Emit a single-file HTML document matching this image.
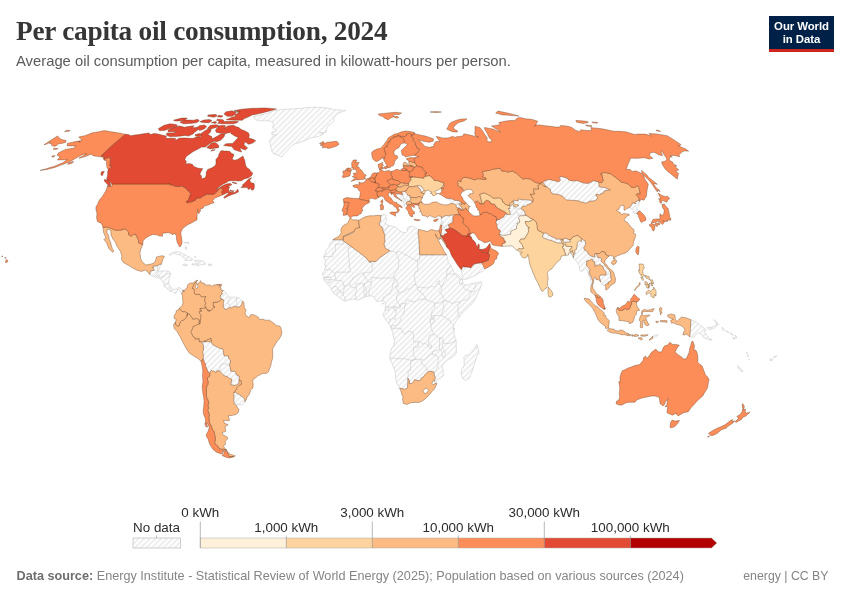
<!DOCTYPE html>
<html lang="en"><head><meta charset="utf-8"><title>Per capita oil consumption, 2024</title>
<style>
html,body{margin:0;padding:0;background:#fff}
body{width:850px;height:600px;position:relative;overflow:hidden;font-family:"Liberation Sans",sans-serif;color:#5b5b5b}
.title{position:absolute;left:16px;top:15.9px;margin:0;font-family:"Liberation Serif",serif;font-weight:bold;font-size:27.3px;line-height:30px;color:#363636;letter-spacing:-0.25px;white-space:nowrap}
.subtitle{position:absolute;left:16px;top:52.4px;margin:0;font-size:14.8px;line-height:18px;color:#5b5b5b;white-space:nowrap}
.logo{position:absolute;left:769px;top:16px;width:65px;height:36px;background:#002147;border-bottom:3px solid #ce261e;box-sizing:border-box;color:#fff;font-weight:bold;font-size:11.4px;line-height:12.3px;text-align:center;padding-top:4.4px;letter-spacing:-0.08px}
.footer{position:absolute;left:16.5px;top:568.3px;font-size:12.67px;line-height:16px;color:#858585;white-space:nowrap}
.footer b{color:#6e6e6e}
.cc{position:absolute;right:21.5px;top:568.3px;font-size:12.3px;line-height:16px;color:#858585;white-space:nowrap}
svg{position:absolute;left:0;top:0}
.nd path{fill:url(#hatch);stroke:#c6c6c6;stroke-width:0.55;stroke-linejoin:round}
.nd path.ndl{fill:none}
g[class^=c] path{stroke:#5a3418;stroke-opacity:.6;stroke-width:0.6;stroke-linejoin:round}
.c0 path{fill:#fef0d9}
.c1 path{fill:#fdd49e}
.c2 path{fill:#fdbb84}
.c3 path{fill:#fc8d59}
.c4 path{fill:#e34a33}
.c5 path{fill:#b30000}
.lg text{font-family:"Liberation Sans",sans-serif;font-size:13.4px;fill:#2b2b2b;text-anchor:middle}
</style></head><body>
<h1 class="title">Per capita oil consumption, 2024</h1>
<p class="subtitle">Average oil consumption per capita, measured in kilowatt-hours per person.</p>
<div class="logo">Our World<br>in Data</div>
<svg width="850" height="600" viewBox="0 0 850 600">
<defs><pattern id="hatch" patternUnits="userSpaceOnUse" width="4" height="4" patternTransform="rotate(-45 2 2)"><rect width="4" height="4" fill="#fff"/><path d="M-1,2 l6,0" stroke="#e2e2e2" stroke-width="1.15"/></pattern></defs>
<g id="map">
<g class="nd">
<path d="M233.8,399.8L233.8,397.2L233.9,392.4L235.7,392.4L237.7,394.0L238.6,394.1L241.1,395.9L243.1,397.4L245.0,399.0L244.8,401.8L244.1,403.2L242.0,405.0L239.2,404.8L235.4,403.5L233.9,402.4ZM239.0,380.3L240.7,380.4L240.8,380.5ZM224.0,355.8L228.2,355.8L228.6,358.4L230.4,360.0L230.4,362.9L229.5,365.0L229.6,365.9L230.5,367.9L230.6,371.1L233.9,371.3L235.7,371.9L236.5,375.0L239.3,376.2L239.0,380.3L239.1,382.7L238.3,384.0L236.7,384.9L235.6,385.3L234.2,385.3L230.5,384.7L232.0,379.5L229.3,378.2L227.6,376.9L224.0,375.6L219.9,371.5L219.4,370.8L216.9,370.8L216.0,372.8L214.0,371.1L212.8,371.1L211.4,370.3L209.7,373.0L207.9,371.6L207.5,370.3L206.9,369.0L206.0,366.9L205.3,365.8L205.8,364.0L204.4,362.4L204.0,360.8L203.0,358.9L203.4,356.8L203.8,355.5L202.7,353.9L203.1,353.1L202.5,351.8L203.6,350.2L203.3,346.8L203.7,345.8L201.4,341.7L203.4,341.8L203.6,341.7L207.5,341.7L211.4,341.8L212.2,344.2L214.6,345.8L217.4,347.1L219.8,348.4L222.9,348.9L223.6,352.6ZM383.3,304.1L382.4,304.1L382.4,303.0L383.3,303.0ZM234.7,297.0L237.1,297.4L239.4,298.3L240.9,299.9L242.7,301.2L242.4,301.9L241.6,304.4L240.4,306.2L239.4,307.0L235.5,306.7L234.3,306.1L232.2,307.5L231.0,307.8L229.2,307.7L226.4,309.4L224.7,309.2L223.4,306.7L223.2,303.3L223.9,301.2L222.8,299.1L221.4,299.1L219.9,297.1L220.5,296.5L220.5,295.1L222.5,294.1L221.6,292.8L223.3,290.4L223.8,290.9L226.7,293.6L227.4,294.9L228.9,296.5L229.9,297.2L232.4,297.2ZM170.2,286.4L171.0,287.5L171.9,288.5L172.8,289.1L174.6,289.6L177.0,288.3L178.2,287.5L180.5,288.0L183.1,289.9L183.1,292.0L181.6,293.8L181.0,293.0L180.4,290.9L178.1,289.1L176.9,290.9L175.8,293.6L174.5,293.0L172.2,291.2L169.9,291.4L168.8,290.4L166.6,287.8L163.9,286.4L163.9,283.8L162.4,281.2L160.3,278.8L159.7,278.0L155.8,277.2L152.5,276.1L149.9,274.6L149.9,274.4L150.1,272.5L151.3,270.5L154.3,270.4L152.4,267.3L153.5,267.3L153.7,265.8L157.9,265.8L157.9,265.5L160.1,264.0L160.5,264.3L160.0,266.7L159.4,269.3L157.9,270.9L159.4,271.4L161.1,271.1L164.5,270.9L168.0,271.1L170.1,272.5L170.7,273.5L169.7,277.2L169.0,279.8L168.8,282.5L168.9,284.1ZM186.0,264.0L187.7,265.1L185.8,265.9L183.1,265.3L182.7,264.5ZM211.8,265.3L208.3,265.3L208.4,264.2L211.9,264.3ZM201.3,260.6L202.6,261.1L204.1,261.9L205.7,263.8L204.3,264.5L202.0,264.3L199.7,264.8L198.4,266.3L197.3,265.1L193.9,264.9L191.9,264.5L192.0,263.8L195.6,264.0L196.6,263.8L195.8,261.9L194.6,260.6L197.9,260.3ZM194.4,256.9L196.0,256.6L195.6,257.7ZM182.7,253.7L185.9,255.3L189.1,256.9L191.2,258.2L192.9,259.5L191.0,260.3L187.9,260.4L184.8,260.5L186.1,258.7L183.3,257.4L181.3,255.6L179.1,254.8L176.2,254.3L174.1,253.2L172.3,254.3L170.4,255.1L169.0,255.1L171.4,252.7L173.8,252.2L175.2,251.8L178.3,251.9L180.5,252.4ZM186.4,249.5L185.5,249.5L185.4,246.9L186.6,246.6ZM188.5,244.2L187.7,243.7L187.8,241.9L188.8,242.7ZM186.7,242.9L184.2,242.9L184.3,242.4L186.8,242.4ZM343.2,236.3L346.9,234.6L350.6,232.9L354.4,231.2L354.4,231.3L351.4,233.7L348.0,234.8L345.6,235.9L343.1,237.1ZM378.5,196.4L378.8,196.4L378.4,197.4ZM387.5,189.0L387.6,189.2L387.1,189.2ZM378.9,184.1L379.3,184.2L378.9,185.0ZM374.1,179.4L374.1,179.3L374.7,179.4L374.7,179.6ZM376.6,175.9L376.5,176.0L376.6,175.8ZM376.9,174.9L376.8,174.9L376.9,174.6ZM269.6,140.2L272.3,136.8L276.5,135.0L274.1,134.8L271.7,134.5L271.9,132.3L274.4,131.6L276.8,130.8L274.7,129.4L272.6,128.0L273.6,124.9L272.3,121.8L270.3,121.3L268.4,120.8L265.8,120.8L263.2,120.8L260.6,120.8L258.5,120.5L256.5,120.2L254.6,118.8L253.7,116.4L256.8,115.7L259.9,115.0L263.0,114.4L265.8,113.7L268.5,113.0L273.2,111.0L276.0,110.4L278.8,109.9L281.6,109.4L284.5,109.3L287.4,109.1L290.3,109.0L293.1,108.9L295.6,108.7L298.1,108.5L300.5,108.3L303.1,108.1L305.6,107.8L308.2,107.6L310.7,107.4L313.4,107.3L316.2,107.3L318.9,107.2L321.5,107.5L324.2,107.8L326.8,108.1L329.4,108.4L332.0,109.1L334.6,109.7L337.3,109.9L340.1,110.1L342.9,110.3L345.7,110.5L342.6,111.6L339.5,112.7L336.1,114.9L333.9,117.8L334.0,120.8L331.0,123.8L327.2,126.5L326.7,129.1L326.0,132.3L322.6,132.5L319.3,132.6L321.6,133.2L324.0,133.9L321.2,135.2L318.4,136.6L314.8,137.1L311.3,137.7L308.4,138.9L305.5,140.2L302.5,141.4L299.5,142.7L295.8,143.4L291.4,145.9L288.5,149.4L284.7,153.0L282.8,155.9L280.9,156.8L279.2,155.9L277.6,154.9L275.5,154.3L273.4,153.7L271.8,150.6L270.7,146.6L269.8,142.4ZM472.8,369.5L470.6,374.8L469.1,378.5L464.9,380.3L462.4,378.2L461.1,373.4L461.8,369.5L464.2,365.5L464.1,360.3L463.8,357.6L465.0,355.5L469.2,354.5L471.4,352.4L473.4,349.7L475.4,347.1L476.7,344.4L478.5,349.7L479.0,353.7L477.0,355.0L476.1,358.9L474.3,364.2ZM454.4,329.7L453.9,329.7L453.7,328.1L454.4,328.4ZM399.3,230.5L402.8,232.4L405.5,232.9L407.2,231.6L407.1,229.7L408.1,227.1L411.3,226.1L414.0,226.8L415.9,228.4L418.6,229.5L418.4,232.4L417.8,233.4L418.6,235.8L418.9,240.6L419.2,245.3L419.4,250.0L419.6,254.8L424.1,254.8L428.6,254.8L433.0,254.8L437.5,254.8L442.0,254.8L446.5,254.8L447.0,256.1L447.6,258.7L448.3,262.7L451.0,265.3L452.5,268.5L453.5,271.7L454.1,272.7L456.0,273.5L458.4,275.1L461.3,278.5L462.7,279.8L462.5,282.2L464.6,285.1L468.0,284.9L471.5,283.5L474.9,283.0L478.4,282.5L481.3,281.6L481.3,285.4L480.4,288.0L478.7,291.2L477.2,294.9L475.6,298.3L473.8,301.5L470.9,304.9L468.1,307.5L465.1,310.2L461.6,313.9L459.5,317.3L458.1,318.1L455.9,321.2L455.0,323.5L453.8,325.2L453.0,328.6L453.9,330.7L454.3,335.2L454.9,337.8L456.2,340.5L456.1,343.1L456.2,347.1L456.4,352.4L454.7,355.5L451.1,357.9L447.3,360.0L445.1,362.4L442.2,365.0L442.6,367.6L443.3,371.3L443.2,375.8L440.8,377.9L437.4,379.2L436.3,381.2L436.8,383.6L435.0,383.5L434.7,381.1L435.2,377.4L434.2,374.8L433.9,371.9L429.6,371.3L427.0,372.4L425.1,374.5L423.4,376.9L421.3,377.9L420.3,380.6L417.6,380.6L414.7,379.5L413.7,381.6L411.6,383.5L409.3,383.5L409.6,381.1L407.9,378.2L407.8,382.9L407.5,387.7L405.7,389.0L403.4,389.0L401.7,388.5L399.6,388.2L396.7,382.9L396.1,380.2L395.5,377.4L395.4,372.1L393.5,366.9L391.3,362.1L389.7,358.4L389.7,356.8L390.5,352.9L391.5,348.4L393.8,345.5L394.6,341.0L393.2,336.0L392.8,332.6L391.2,328.6L390.2,325.5L388.2,323.1L385.9,320.2L384.3,317.5L382.9,314.6L384.5,311.7L385.0,309.9L385.4,306.7L385.4,304.9L385.2,302.3L383.3,300.9L381.9,300.7L378.9,301.2L376.6,301.5L374.7,298.3L373.1,296.2L370.5,295.9L368.4,296.1L365.4,296.7L362.1,298.3L357.9,300.3L355.6,299.4L353.3,299.1L348.6,299.9L345.1,301.3L341.2,299.1L337.5,296.2L335.9,294.6L333.6,293.3L332.0,290.4L330.8,287.8L329.4,286.4L327.8,284.3L326.7,283.3L325.1,281.4L324.0,280.1L323.8,278.3L323.8,276.4L322.2,273.9L324.6,270.3L325.9,265.1L324.7,265.3L325.5,261.4L324.9,258.5L323.6,258.0L323.8,256.4L325.5,252.7L326.2,250.3L328.8,247.7L329.8,243.7L332.1,242.1L332.9,239.8L336.3,239.8L339.7,239.8L343.1,239.8L343.1,240.8L347.4,243.8L351.7,246.9L356.2,250.3L360.8,253.7L365.3,257.2L367.7,259.9L370.2,262.7L369.9,261.1L372.9,261.4L375.9,261.6L379.7,257.7L383.1,255.4L386.5,253.1L389.9,250.8L385.3,248.2L383.8,243.7L384.9,242.7L384.6,238.2L384.8,234.5L383.8,232.9L382.9,230.5L382.8,228.2L381.0,226.8L379.4,224.7L379.1,222.9L380.8,221.3L380.5,216.8L381.3,215.4L383.9,214.3L384.8,214.7L386.5,215.3L385.7,216.8L386.7,219.2L386.1,221.3L384.9,223.4L386.9,224.2L388.0,225.3L391.8,226.1L394.2,226.8L396.5,227.6ZM470.7,268.1L473.2,264.8L475.0,263.8L478.4,263.2L481.8,262.7L483.3,265.8L484.8,268.9L482.9,271.4L479.0,272.7L474.6,275.9L470.0,277.5L466.6,279.0L463.2,279.4L462.5,277.7L461.8,273.2L461.1,269.7L462.0,268.8L462.3,266.7L464.6,266.9L466.5,266.9L469.2,267.3ZM479.0,248.2L478.5,247.9L479.0,248.1ZM477.3,246.8L477.3,246.9L477.3,246.8ZM543.6,233.2L546.0,232.8L548.4,234.8L551.5,236.6L553.9,237.4L556.0,239.0L558.1,239.0L560.9,239.3L561.6,243.2L558.4,243.1L554.8,242.1L551.8,240.6L548.8,240.0L545.4,238.7L542.2,236.9ZM471.5,237.5L471.5,237.7L471.4,237.7ZM440.9,219.2L441.1,218.1L441.2,218.1L441.7,218.3L442.1,217.4L442.7,217.2L443.7,216.2L446.5,215.6L449.8,215.8L451.8,215.0L454.8,215.0L452.9,216.6L452.9,219.2L452.8,222.1L450.6,223.5L448.3,224.8L449.2,227.1L449.6,228.0L448.8,228.4L444.9,229.7L447.4,232.4L446.4,233.7L444.7,234.1L443.5,235.8L441.1,235.5L440.8,235.0L441.0,234.9L441.5,231.1L441.6,229.1L441.4,227.4L441.6,226.6L441.8,225.0L441.3,225.1L440.2,225.5L440.9,223.4L441.5,221.4ZM502.6,235.3L498.8,234.1L500.4,231.6L500.1,230.0L498.0,229.7L496.7,225.8L497.1,224.5L495.9,222.9L496.4,220.4L497.1,220.5L496.8,218.9L499.3,220.0L500.7,218.4L503.5,217.1L505.3,213.9L507.3,214.3L510.1,214.7L509.9,211.6L508.2,208.4L510.0,208.6L509.7,207.0L510.7,205.3L512.9,204.6L513.8,205.4L513.7,206.6L516.4,207.0L518.9,205.3L516.7,204.6L515.0,204.4L513.5,203.7L513.7,201.8L513.1,201.5L513.2,200.1L515.7,200.5L518.3,201.0L517.8,199.5L519.4,199.0L522.8,199.8L525.1,199.8L527.4,199.8L530.1,200.1L532.9,202.0L529.8,204.0L526.8,204.8L525.4,206.3L522.8,206.1L521.2,207.9L521.0,208.8L524.5,211.3L525.5,214.6L525.0,215.1L523.8,215.6L520.6,215.8L518.3,217.9L519.7,220.0L519.3,222.9L516.9,223.2L517.9,224.7L516.4,225.8L516.6,228.7L513.5,230.0L510.6,231.3L510.9,234.0L508.4,234.6L506.0,235.3ZM446.9,198.5L447.2,198.0L449.7,198.5L452.3,199.0L455.3,200.6L458.3,200.6L461.3,202.4L460.9,203.2L462.1,204.5L459.1,203.6L458.5,204.0L460.1,205.3L461.0,206.8L462.7,208.7L463.0,210.3L462.1,210.3L461.7,209.2L460.5,208.6L459.3,207.9L458.9,208.3L456.1,207.1L456.2,205.5L455.3,204.5L453.1,203.6L451.1,203.5L451.0,203.4L451.1,201.6L449.2,199.5ZM419.2,203.9L419.3,203.8ZM411.5,203.8L411.3,204.0L411.5,203.5ZM406.8,202.0L406.3,203.3L406.5,204.5L407.5,205.1L407.2,206.3L406.4,207.4L405.8,208.3L405.3,207.6L404.1,206.1L404.1,204.0L403.7,202.5L403.1,201.9L401.8,201.1L401.7,200.7L399.9,199.5L398.4,198.2L396.6,196.4L395.5,194.9L396.0,193.8L397.8,193.7L400.2,194.1L402.3,194.7L402.4,193.6L401.7,192.0L403.0,191.4L404.7,191.4L405.8,192.3L407.4,193.8L407.3,194.9L408.9,195.6L410.1,195.5L410.1,196.4L409.7,197.5L411.1,199.0L410.0,200.1L410.0,201.4L408.4,201.5ZM439.0,193.9L439.0,193.8ZM422.5,191.5L421.3,193.2L421.0,191.0L420.2,189.4L418.4,187.1L417.0,186.0L418.8,185.4L421.4,186.3L422.7,188.1L423.7,189.4L424.9,190.7L423.6,190.6ZM444.2,186.9L442.2,187.4L443.7,184.7ZM412.5,177.1L412.5,176.8L413.7,176.9ZM511.8,171.1L512.4,170.9L513.1,171.3ZM498.5,168.3L500.0,168.1L500.3,168.7ZM403.8,165.9L404.9,165.4L406.8,165.6L410.5,165.4L410.2,166.2L407.0,166.1ZM414.3,133.9L413.4,134.6L414.1,132.9ZM737.7,365.8L740.5,368.2L743.1,371.6L741.9,371.6L739.1,369.2L737.5,366.6ZM772.2,360.8L769.8,360.5L769.9,358.9L772.9,359.2ZM749.0,359.2L749.5,359.7L748.8,359.7ZM776.2,356.8L773.7,357.6L773.7,356.8L776.7,355.8ZM747.6,355.0L748.7,356.3L747.7,356.6ZM747.3,354.2L746.5,353.4L746.8,352.4L747.9,353.7ZM734.3,338.9L732.7,338.4L732.8,337.3L735.5,338.6ZM652.9,336.5L652.3,336.6L652.4,336.5L654.8,335.2L658.1,334.9L656.1,336.5L652.6,338.3L652.5,337.8ZM736.0,337.8L735.3,336.0L735.4,334.9L736.9,337.8ZM732.8,335.2L730.2,333.4L730.3,332.6L733.5,335.2ZM728.2,332.6L726.2,331.3L726.3,330.5L728.9,332.3ZM709.3,338.4L712.2,340.0L709.1,340.0L706.5,338.9L703.9,337.8L701.6,334.4L698.2,332.8L695.5,334.7L694.3,337.1L693.2,337.1L689.7,336.8L690.1,332.5L690.4,328.2L690.7,323.9L690.9,319.7L693.9,320.9L696.8,322.2L699.3,324.3L701.7,326.5L704.8,328.6L706.1,330.2L704.2,330.7L706.8,335.5ZM723.9,331.0L722.0,328.6L722.3,327.3L724.9,330.2ZM710.1,329.4L707.6,328.6L707.4,327.6L711.4,327.3L715.0,326.0L716.7,323.9L716.8,326.0L713.6,328.6ZM716.4,321.5L718.6,324.7L717.8,325.2L715.2,321.8L713.7,319.7ZM598.4,265.7L596.9,264.8L594.9,266.7L595.1,265.3L594.3,261.4L592.9,261.4L592.4,259.5L591.5,259.1L589.2,260.6L586.5,261.1L586.9,263.8L586.0,264.0L587.3,266.4L590.2,269.6L589.6,270.3L589.0,273.0L591.7,278.0L592.9,282.2L591.5,285.4L591.0,286.4L591.1,285.1L590.7,280.4L589.1,275.9L588.1,273.2L587.6,270.6L585.6,268.0L584.0,269.6L582.1,271.4L579.7,270.6L579.1,265.3L577.6,262.7L574.8,259.5L573.5,258.1L573.5,256.4L573.7,254.8L574.9,254.0L574.7,249.8L576.5,249.5L577.0,245.8L577.5,242.7L579.4,240.8L581.5,241.3L581.4,238.4L583.5,240.0L584.9,240.3L585.8,244.5L583.9,247.4L584.2,249.8L587.5,251.6L588.6,254.3L591.2,256.1L593.5,256.6L594.9,256.9L594.4,254.0L595.3,253.7L597.3,255.6L597.9,257.7L600.4,257.6L601.7,259.0L600.9,260.9L603.9,263.8L605.6,266.4L607.5,268.1L609.7,270.9L610.7,273.0L610.7,274.0L610.7,277.2L611.5,280.1L608.9,281.9L607.8,282.2L608.6,283.8L606.1,283.9L604.7,285.4L602.7,285.0L601.6,283.8L600.8,282.1L600.1,279.6L599.0,277.1L599.4,276.9L600.3,275.2L602.6,275.0L605.4,275.0L606.0,274.7L605.9,271.7L603.6,269.3L603.1,266.7L599.8,264.3ZM570.1,240.6L570.4,242.0L567.9,242.1L565.3,242.4L563.4,242.1L562.9,240.7L564.0,238.4L566.0,238.4L568.7,239.5L568.9,239.6ZM562.0,238.9L562.3,238.8L562.9,240.7ZM639.1,203.7L638.9,205.5L636.7,207.8L637.2,209.2L640.0,211.0L637.9,211.8L637.5,213.3L636.5,213.4L634.9,213.3L632.9,212.4L633.3,210.8L631.6,208.7L629.6,207.7L629.6,207.5L631.7,204.8L632.4,202.7L635.8,203.7L634.7,202.1L637.5,201.1L638.0,199.8L639.5,201.1L639.7,201.4L638.9,202.1ZM582.7,182.8L585.1,183.1L587.6,183.5L589.5,182.8L591.3,182.0L593.2,180.7L596.0,181.3L598.7,181.9L598.8,184.3L599.4,186.9L601.9,187.2L604.5,187.5L607.4,188.7L610.3,189.9L607.9,190.3L605.6,190.7L604.1,191.0L603.5,193.2L601.0,193.3L600.1,195.0L596.1,194.2L596.0,195.9L598.0,197.7L596.1,200.1L594.2,201.0L590.0,201.1L588.1,202.1L586.1,203.2L581.4,202.1L578.2,200.8L574.2,200.5L571.2,200.3L568.1,200.1L566.5,200.2L562.6,196.2L557.8,194.3L555.0,194.1L552.3,193.8L550.8,191.8L550.3,189.4L547.2,187.1L546.4,186.8L542.6,182.0L543.7,181.5L546.0,180.5L548.3,179.4L552.5,180.2L555.7,181.0L558.8,181.7L560.6,180.2L558.6,177.7L561.4,176.4L564.3,177.3L567.3,178.2L568.5,179.9L572.5,181.0L575.2,180.8L577.8,180.7Z"/>
<path class="ndl" d="M219.9,371.5L220.3,367.0L221.2,364.6L225.2,363.7L227.2,363.8L229.6,365.9M229.9,297.2L229.3,298.8L228.4,300.7L227.9,302.3L227.5,303.6L229.2,304.0L229.9,306.2L231.0,307.8M237.1,297.4L236.0,299.6L236.5,302.3L236.9,303.3L236.4,305.4L235.5,306.7M157.9,265.8L157.2,270.9L157.9,270.9M159.4,271.4L156.9,273.6L156.4,274.8L154.5,276.5M156.4,274.8L158.3,275.9L160.1,276.4L159.7,278.0M160.8,278.7L162.3,277.7L162.3,276.5L164.5,276.3L166.8,273.8L170.7,273.4M164.1,283.5L166.4,283.8L168.2,284.5L168.8,284.1M171.0,287.5L170.3,288.8L170.2,289.6L170.1,291.5M183.1,289.9L183.1,292.0L181.6,293.8M198.4,260.9L198.2,263.2L197.5,263.8L197.9,265.2M343.1,240.8L343.0,244.2L339.2,244.2L335.5,244.2L335.4,247.5L335.3,250.8L333.0,252.2L332.9,256.6L329.8,256.6L326.8,256.6L323.7,256.6M343.1,240.8L347.4,243.8L351.7,246.9L347.9,246.9L348.3,251.4L348.7,255.8L349.1,260.3L349.5,264.8L349.9,269.3L350.4,271.9L347.2,272.0L343.9,272.1L340.7,272.2L337.9,272.2L336.1,271.7L334.5,273.8L331.5,270.3L329.2,269.0L324.6,270.3M365.3,257.2L367.7,259.9L370.2,262.7L372.2,262.4L372.2,265.9L372.3,269.3L370.7,272.2L368.1,272.3L365.6,272.5L363.1,273.2L361.0,273.0L358.0,275.4L355.7,276.7L352.7,278.0L352.4,279.8L350.3,281.7L349.9,285.4L348.2,284.6L346.4,285.9L344.1,285.9L343.4,283.8L341.8,280.4L338.8,280.6L336.2,280.9L336.2,280.1L335.3,276.9L334.5,273.8M336.2,280.1L333.6,279.8L330.9,279.6L327.9,279.6L324.0,280.1M323.8,278.3L325.7,277.4M325.7,277.4L326.8,276.9L330.7,277.2L327.0,277.7L325.7,277.4M325.7,277.4L323.8,276.9M330.9,279.6L330.9,281.9L328.6,282.5L327.9,284.1M331.7,288.8L333.6,286.7L336.4,286.4L338.0,288.8L338.7,290.4L336.1,294.5M338.7,290.4L340.5,290.7L341.0,293.0L343.1,292.8L343.3,295.7L345.2,297.5L345.1,301.3M343.1,292.8L344.0,290.4L344.1,285.9M349.9,285.4L351.7,287.2L356.1,287.8L356.3,291.7L355.2,295.1L356.1,299.4M356.1,287.8L355.9,283.8L358.4,283.8L361.0,283.8L362.6,283.5L364.7,283.8L363.5,285.6L364.0,290.4L363.8,293.0L365.4,296.7M364.7,283.8L365.8,282.7L368.2,281.4L367.7,280.1L364.9,277.5L363.1,273.2M364.7,283.8L364.5,285.4L366.3,289.1L366.3,292.6L366.3,296.2M368.2,281.4L370.9,281.9L371.4,285.1L369.1,289.1L369.0,292.6L368.9,296.1M370.9,281.9L371.8,277.2L375.1,277.6L378.3,278.0L382.2,278.5L385.7,277.7L388.4,278.0L391.0,278.3L393.8,276.7L393.8,274.8L396.0,271.5L398.2,268.2L398.6,263.6L398.9,259.0L397.1,256.6L396.5,252.4L393.2,251.6L389.9,250.8M379.4,224.7L381.0,226.8L382.8,228.2L382.9,230.5L383.8,232.9L385.3,231.3L385.5,229.0L388.1,227.1L388.0,225.3M396.5,252.4L399.0,251.1L403.6,253.7L408.2,256.2L412.9,258.8L417.6,261.4L417.5,260.1L419.8,260.1L419.6,254.8M419.6,254.8L423.2,254.8L426.8,254.8L430.4,254.8L433.9,254.8L434.1,254.7M443.6,254.7L446.6,254.8M417.6,261.4L417.7,266.4L417.9,271.4L415.4,271.7L414.3,275.9L414.6,279.3L415.6,282.7L415.6,284.1M393.8,276.7L395.2,278.5L395.4,280.1L397.3,280.9L397.3,284.1L398.5,286.4L395.1,286.7L397.4,289.9L398.6,293.0M398.6,293.0L401.1,292.2L404.4,291.7L406.7,289.1L409.9,288.8L412.9,284.9L415.6,284.1M395.2,278.5L393.2,282.5L392.7,285.2L392.3,288.0L391.2,291.0L390.0,294.1L387.0,294.3L385.4,295.9L383.1,297.5L382.6,300.1M385.4,306.7L388.9,307.0L393.6,307.0L396.4,307.0L400.1,308.3L400.3,307.0L398.7,303.6L396.8,300.7L396.3,296.5L398.6,293.0M385.0,310.0L388.9,310.2L388.9,307.0M400.3,307.0L401.2,303.6L405.9,303.6L405.9,301.2L408.0,299.4L410.5,301.2L414.7,302.0L417.0,300.7L419.3,299.4L421.4,299.4L423.9,299.4L426.3,299.4M415.6,284.1L417.6,287.5L417.1,289.6L420.2,291.2L421.1,293.0L424.0,295.4L426.3,299.4M417.6,287.5L420.1,287.0L424.1,287.8L427.5,288.0L429.9,287.2L431.0,286.2L434.0,287.0L436.5,284.9L437.6,281.9L439.4,280.6L439.3,284.6L441.2,285.9L441.5,287.8M450.9,265.1L451.0,265.3M451.0,265.3L448.6,267.7L447.5,269.8L446.5,273.2L446.8,275.1M446.8,275.1L446.1,279.3L443.8,281.7L443.5,284.3L442.1,284.9L441.5,287.8L441.7,290.1L439.2,291.7L441.4,293.8L444.0,298.6L446.1,300.7L446.4,301.1M446.8,275.1L450.0,273.5L452.6,274.3L455.4,274.8L459.0,278.5L460.7,279.8L462.3,279.3M460.7,279.8L459.4,282.2L459.4,283.8L461.7,283.9L462.7,282.5M461.7,283.9L462.2,285.1L464.7,289.1L468.2,290.4L471.7,291.7L474.1,291.7L475.0,287.4L475.8,283.1M471.7,291.7L469.5,295.7L467.3,299.6L462.6,300.4L460.1,302.4L458.1,305.4L458.1,310.2L458.1,314.9L459.5,317.3M460.1,302.4L457.5,301.6L455.2,302.5L451.3,303.3L448.5,301.2L446.4,301.1L446.1,300.7M446.4,301.1L442.6,300.7L441.7,301.7L440.6,302.9L437.7,303.0L434.7,303.0L434.5,303.8L434.3,306.5L435.5,307.1L432.2,310.7L431.5,314.1L431.5,316.5M426.3,299.4L428.7,301.5L431.2,300.7L432.9,302.5L434.5,303.8M442.6,300.7L443.4,304.2L444.1,307.8L441.8,312.8L441.6,315.4L446.0,318.2L450.4,321.0L450.1,322.0L453.8,325.2M441.6,315.4L437.6,315.5L433.6,315.6L432.5,316.4L431.5,316.5M433.6,315.6L434.3,319.1L433.4,318.9L432.2,318.9L431.5,316.5M431.5,316.5L430.6,317.3L429.9,319.1L430.1,319.9L432.2,318.9M430.1,319.9L430.6,323.1L431.0,324.5L434.3,321.5L433.4,318.9M431.0,324.5L431.4,329.4L434.1,334.4M405.9,303.6L404.7,306.5L404.4,309.2L404.1,312.0L403.8,314.4L401.0,317.5L399.8,322.0L398.0,324.1L396.1,325.7L393.8,325.7L392.8,324.9L391.9,326.0L391.0,328.1M396.4,307.0L393.6,307.0L393.6,309.4L395.9,309.6L396.1,314.1L394.7,316.8L396.1,318.9L394.7,319.4L392.4,318.1L391.7,319.1L389.6,318.9L390.3,321.8L388.4,323.1M391.0,328.1L393.3,328.2L397.2,328.3L401.2,328.4L402.1,332.0L405.6,333.9L407.7,331.3L410.5,331.7L413.2,332.0L413.4,335.2L413.6,339.2L414.2,342.3L418.2,341.5L418.1,344.3L418.1,347.1M418.1,347.1L413.5,347.1L413.4,351.3L413.2,355.5L416.4,359.2L419.8,359.1L420.7,359.7M389.7,358.4L393.6,357.6L395.2,358.7L398.4,358.7L401.7,358.7L404.9,358.7L407.7,359.5L410.6,360.3L413.5,359.7L416.4,359.2M418.2,341.5L421.2,342.3L422.8,344.2L425.6,343.4L428.3,345.8L429.6,348.1L431.5,348.1L431.5,345.0L429.7,345.5L428.3,343.9L429.1,338.6L428.9,337.1L429.7,335.2L434.1,334.4M434.1,334.4L436.5,336.0L438.9,337.6L439.6,338.1M439.6,338.1L441.2,337.8L442.6,338.1L443.4,343.1L442.2,345.0L442.5,348.1L445.4,352.1L445.0,355.0L443.6,357.1L443.3,357.9L441.6,354.5L442.4,353.1L442.0,350.8L439.5,349.7L439.5,345.8L439.6,342.0L439.6,338.1M443.4,343.1L447.1,343.7L451.8,342.6L456.2,340.5M439.5,349.7L435.9,350.8L432.3,351.8L432.6,354.2L429.1,355.0L424.6,360.0L420.7,359.7M432.6,354.2L434.7,355.0L438.3,356.8L438.4,360.3L437.6,362.6L438.1,365.0L436.8,369.0L433.9,371.9M420.7,359.7L422.1,364.2L425.9,366.9L426.5,369.8L429.6,371.3M407.9,378.2L408.1,374.5L408.2,370.8L410.5,370.8L410.6,365.9L410.8,361.1L413.6,360.1L416.4,359.2M402.3,194.7L403.1,194.6L402.6,196.2L403.8,196.9L403.0,198.2L402.1,199.0L401.7,200.7M403.0,198.2L405.6,199.9L406.5,198.9L407.8,199.9L408.4,201.5M405.6,199.9L405.1,200.7L403.8,201.9L403.7,202.5M405.1,200.7L406.1,201.6L406.7,202.0M455.3,204.5L458.5,204.0M448.3,224.8L444.2,227.6L441.8,226.4M441.5,221.4L442.7,221.6L443.2,222.6L441.9,224.7L441.4,225.1M510.1,214.7L512.4,214.5L513.5,213.7L515.0,213.7L515.5,211.6L516.9,211.8L517.8,212.9L518.4,215.8L520.7,215.3L523.0,214.2L525.5,214.6M521.0,208.8L517.6,208.9L515.2,208.8L513.8,207.6L513.7,206.6M591.5,259.1L592.4,258.0L593.5,256.6M605.4,275.0L607.2,274.8L608.3,274.3L610.7,274.0"/>
</g>
<g class="c0">
<path d="M571.7,254.0L570.9,252.9L568.8,252.7L568.5,255.1L565.6,255.3L564.9,252.4L564.3,251.4L564.1,249.0L562.4,247.9L562.6,246.4L563.9,246.1L562.3,243.2L562.7,243.1L564.5,244.2L565.6,244.0L566.0,246.1L569.0,246.4L572.0,246.6L571.8,248.2L569.9,249.3L569.9,250.8L571.0,252.3L572.3,250.3L573.7,254.8L573.5,256.4L573.5,258.1Z"/>
<path d="M527.8,216.0L529.9,218.1L533.1,219.2L531.3,220.8L528.6,221.6L525.1,221.6L525.9,223.9L527.1,226.3L529.7,227.6L528.1,228.4L528.8,230.8L527.8,233.7L526.1,236.3L524.4,239.2L520.9,239.0L519.3,241.6L520.9,242.9L522.3,245.0L523.7,248.5L521.5,249.0L518.7,248.7L517.6,250.3L515.9,249.8L513.8,247.4L512.0,245.8L507.5,246.1L504.8,246.2L502.1,246.4L502.3,243.7L505.3,242.7L505.3,241.1L504.1,240.8L503.7,238.2L501.6,237.4L498.8,234.1L502.6,235.3L506.0,235.3L508.4,234.6L510.9,234.0L510.6,231.3L513.5,230.0L516.6,228.7L516.4,225.8L517.9,224.7L516.9,223.2L519.3,222.9L519.7,220.0L518.3,217.9L520.6,215.8L523.8,215.6L525.0,215.1Z"/>
</g>
<g class="c1">
<path d="M490.4,195.9L493.2,198.2L496.2,198.0L499.1,197.7L502.2,199.5L502.8,202.1L503.9,202.4L504.9,204.2L508.0,205.3L509.4,205.8L509.6,203.7L511.3,202.1L513.1,201.5L513.7,201.8L513.5,203.7L515.0,204.4L516.7,204.6L518.9,205.3L516.4,207.0L513.7,206.6L513.8,205.4L512.9,204.6L510.7,205.3L509.7,207.0L510.0,208.6L508.2,208.4L509.9,211.6L510.1,214.7L507.3,214.3L504.6,211.8L501.1,210.1L496.5,207.4L494.7,204.5L490.7,203.7L489.6,201.4L486.4,200.3L484.0,202.4L484.1,204.0L482.0,204.0L480.8,199.1L479.5,194.3L482.0,193.6L484.5,192.8L487.4,194.3ZM479.6,203.0L480.8,204.0L479.9,204.0Z"/>
<path d="M536.3,222.1L537.4,225.8L537.1,227.1L538.0,230.3L539.6,231.1L541.6,232.1L543.6,233.2L542.2,236.9L545.4,238.7L548.8,240.0L551.8,240.6L554.8,242.1L558.4,243.1L561.6,243.2L560.9,239.3L562.0,238.9L562.9,240.7L563.4,242.1L565.3,242.4L567.9,242.1L570.4,242.0L570.1,240.6L568.9,239.6L570.8,239.5L572.5,237.1L575.5,235.8L578.1,235.3L579.4,236.9L581.4,238.4L581.5,241.3L579.4,240.8L577.5,242.7L577.0,245.8L576.5,249.5L574.7,249.8L574.9,254.0L573.7,254.8L572.3,250.3L571.0,252.3L569.9,250.8L569.9,249.3L571.8,248.2L572.0,246.6L569.0,246.4L566.0,246.1L565.6,244.0L564.5,244.2L562.7,243.1L562.3,243.2L563.9,246.1L562.6,246.4L562.4,247.9L564.1,249.0L564.3,251.4L564.9,252.4L565.6,255.3L563.3,255.6L561.1,256.4L560.4,259.5L557.3,261.9L553.9,266.1L551.9,268.8L549.7,269.8L548.7,271.1L547.2,272.7L547.7,275.5L548.2,278.3L547.4,282.5L547.7,285.6L546.3,288.3L544.1,289.6L542.7,291.5L541.3,290.7L539.5,286.7L538.1,283.3L535.5,278.8L534.1,275.4L532.7,271.9L531.1,268.0L529.4,262.7L529.0,259.9L528.6,257.2L527.8,254.3L527.0,256.9L524.4,258.2L522.5,257.4L519.8,253.7L522.4,252.4L519.1,251.6L517.6,250.3L518.7,248.7L521.5,249.0L523.7,248.5L522.3,245.0L520.9,242.9L519.3,241.6L520.9,239.0L524.4,239.2L526.1,236.3L527.8,233.7L528.8,230.8L528.1,228.4L529.7,227.6L527.1,226.3L525.9,223.9L525.1,221.6L528.6,221.6L531.3,220.8L533.1,219.2Z"/>
<path d="M420.0,177.7L423.7,178.2L424.1,176.3L425.9,176.1L429.8,175.5L431.3,177.2L433.6,178.9L434.4,180.5L438.2,180.7L440.1,181.7L443.9,182.5L443.7,184.5L443.7,184.7L442.2,187.4L441.3,187.6L441.3,188.9L440.9,188.9L439.9,189.0L438.4,189.8L435.7,191.0L434.7,191.4L436.6,193.6L438.6,193.3L436.5,194.3L434.8,195.4L433.2,195.9L432.7,195.4L432.2,193.8L430.3,193.4L432.1,192.0L430.0,191.5L428.5,190.2L426.2,190.5L425.3,192.0L424.5,193.6L424.3,193.8L421.3,193.2L422.5,191.5L423.6,190.6L424.9,190.7L423.7,189.4L422.7,188.1L421.4,186.3L418.8,185.4L417.0,186.0L416.2,186.1L412.8,186.7L409.5,186.6L407.9,185.6L408.5,183.8L408.6,182.8L409.7,181.5L411.0,179.4L409.8,177.7L413.7,176.9L416.5,177.2Z"/>
<path d="M639.1,264.0L643.0,264.0L644.3,268.0L642.6,270.6L642.7,271.4L642.9,274.0L644.7,275.4L646.6,275.9L649.0,276.4L649.6,279.7L647.6,278.5L645.9,278.0L645.7,276.1L643.6,276.1L642.1,276.8L641.0,275.4L641.6,274.3L640.7,274.7L639.3,273.2L638.8,271.1L638.3,269.8L639.6,270.3L639.6,269.0L639.2,266.7Z"/>
<path d="M653.6,287.0L655.8,290.4L656.2,293.0L655.9,296.2L654.7,294.3L653.9,298.0L651.3,296.5L650.7,294.9L651.1,293.6L649.2,292.8L646.2,294.6L646.1,292.2L647.0,291.4L648.9,290.1L650.0,291.4L650.9,291.2L651.9,290.4L652.6,289.1L653.8,289.1Z"/>
<path d="M650.1,279.8L652.4,279.8L653.7,283.5L652.1,283.5L651.5,282.2Z"/>
<path d="M650.6,282.7L652.1,283.0L652.8,285.9L651.9,286.2Z"/>
<path d="M647.3,284.1L648.7,284.3L648.6,288.3L647.0,288.0L646.4,286.7Z"/>
<path d="M644.9,281.4L647.6,282.5L646.7,284.6L645.1,285.2L644.8,281.9Z"/>
<path d="M649.7,283.0L650.0,284.1L649.0,287.8L648.6,287.5L648.8,285.1Z"/>
<path d="M640.7,277.2L642.6,277.5L643.6,279.6L643.0,280.6L641.9,279.3Z"/>
<path d="M634.7,290.8L636.3,288.5L640.0,284.9L640.2,282.7L639.3,282.7L638.8,285.1L636.2,287.2L634.8,289.3Z"/>
<path d="M548.3,287.0L550.3,289.3L551.2,290.3L552.9,293.6L552.7,295.4L551.3,296.5L550.0,297.2L548.6,296.5L548.1,294.5L547.9,291.2L548.0,289.1Z"/>
</g>
<g class="c2">
<path d="M139.8,254.0L140.3,254.8L140.5,258.2L142.6,262.4L144.3,263.5L145.7,265.1L149.2,264.3L152.1,263.8L154.0,262.7L155.5,260.6L156.5,256.9L158.9,256.4L161.4,255.8L163.9,256.0L164.4,256.9L162.8,259.3L162.2,261.4L161.4,264.5L160.5,264.0L160.5,264.3L160.1,264.0L157.9,265.5L157.9,265.8L153.7,265.8L153.5,267.3L152.4,267.3L154.3,270.4L151.3,270.5L150.1,272.5L149.9,274.4L149.9,274.6L148.2,272.5L145.1,270.1L141.5,271.4L137.0,270.3L132.7,268.0L128.4,265.3L126.0,264.0L123.6,262.7L121.4,259.3L121.9,256.1L120.4,251.4L116.9,246.1L115.5,242.4L112.9,239.0L111.1,235.0L110.9,230.5L107.4,229.0L106.8,232.4L108.4,235.0L109.1,239.0L110.8,242.9L111.3,245.6L112.3,248.7L113.9,251.1L112.5,252.4L111.8,251.4L108.5,248.2L108.3,246.9L106.4,242.4L103.8,239.5L105.9,238.4L104.9,235.5L103.8,233.2L103.2,229.7L102.9,227.1L103.0,227.1L105.5,227.1L108.1,227.1L111.7,228.6L115.3,230.2L118.5,230.2L121.7,230.2L122.1,229.1L125.8,229.1L128.4,231.9L128.7,234.8L131.1,236.3L133.2,234.4L135.5,234.2L137.0,237.1L138.5,240.3L138.8,243.2L142.8,244.5L140.7,249.5Z"/>
<path d="M242.8,301.2L243.9,302.3L244.3,307.5L246.1,310.2L245.0,312.8L246.1,315.4L248.5,317.3L249.7,316.8L250.1,315.2L252.0,314.4L255.5,315.4L258.5,317.3L259.5,319.7L262.5,319.1L265.3,320.2L269.5,320.2L273.0,322.6L276.5,325.5L280.0,326.2L280.8,327.6L281.8,331.5L281.4,335.2L279.8,338.1L279.1,339.2L276.9,341.5L275.8,343.7L273.6,347.1L272.7,348.4L272.6,351.0L272.8,355.0L272.5,358.9L271.5,361.6L270.7,366.3L269.2,369.0L269.1,370.8L267.0,373.2L264.3,373.4L262.5,373.4L260.3,374.8L257.5,376.1L256.0,377.4L253.2,379.5L252.7,381.4L253.2,384.0L253.0,387.9L250.6,390.1L249.5,394.0L247.1,397.2L246.2,399.8L244.8,401.8L245.0,399.0L243.1,397.4L241.1,395.9L238.6,394.1L237.7,394.0L235.7,392.3L233.9,392.4L235.4,390.6L237.2,387.4L239.2,385.4L241.3,384.4L241.3,382.1L240.7,380.4L239.0,380.3L239.3,376.2L236.5,375.0L235.7,371.9L233.9,371.3L230.6,371.1L230.5,367.9L229.6,365.9L229.5,365.0L230.4,362.9L230.4,360.0L228.6,358.4L228.2,355.8L224.0,355.8L223.6,352.6L222.9,348.9L219.8,348.4L217.4,347.1L214.6,345.8L212.2,344.2L211.2,341.3L210.9,338.4L208.6,339.4L206.2,340.5L205.0,341.0L203.4,341.8L201.4,341.7L199.2,341.8L198.9,338.4L197.3,339.2L195.2,339.2L194.9,337.8L193.2,336.8L191.5,333.6L190.7,332.6L191.4,331.0L192.4,328.6L193.1,326.5L195.1,325.7L197.4,324.4L199.8,323.9L200.3,319.7L200.9,315.4L199.4,313.1L199.4,311.3L201.7,311.1L201.4,310.4L199.9,309.9L199.9,308.3L203.8,308.2L205.2,307.4L206.3,308.3L206.9,309.6L208.2,310.8L210.0,311.0L213.6,307.7L215.0,307.0L213.1,306.2L213.2,304.1L213.4,302.0L216.5,302.3L219.8,300.9L221.4,299.1L222.8,299.1L223.9,301.2L223.2,303.3L223.4,306.7L224.7,309.2L226.4,309.4L229.2,307.7L231.0,307.8L232.2,307.5L234.3,306.1L235.5,306.7L239.4,307.0L240.4,306.2L241.6,304.4L242.4,301.9L242.7,301.2Z"/>
<path d="M241.3,384.4L239.2,385.4L237.2,387.4L235.4,390.6L233.9,392.4L233.8,397.2L233.8,399.8L233.9,402.4L234.1,403.8L236.3,405.1L237.2,407.2L239.1,409.8L238.0,413.0L235.2,414.8L231.0,415.6L228.2,415.6L229.6,420.3L228.1,420.8L223.6,420.3L224.5,423.5L227.7,424.2L227.8,425.3L225.3,426.1L225.1,427.4L225.9,431.3L222.1,432.6L223.1,434.9L227.3,436.9L227.7,438.7L225.2,441.6L225.5,444.1L223.5,446.2L224.6,447.9L226.7,450.1L226.6,450.1L223.2,449.2L220.0,449.2L218.8,448.4L217.8,445.9L215.0,444.1L214.7,442.3L215.4,439.8L215.2,436.9L214.7,435.1L214.2,432.0L212.6,429.7L211.2,426.1L209.5,422.4L208.8,417.2L209.4,414.6L208.2,411.7L207.7,409.8L208.8,408.2L207.9,405.6L208.8,403.0L207.6,399.3L206.4,396.9L206.4,392.4L206.4,387.4L207.9,384.3L208.1,382.1L207.4,379.2L207.7,377.4L209.8,376.1L209.7,373.0L211.4,370.3L212.8,371.1L214.0,371.1L216.0,372.8L216.9,370.8L219.4,370.8L219.9,371.5L224.0,375.6L227.6,376.9L229.3,378.2L232.0,379.5L230.5,384.7L234.2,385.3L235.6,385.3L236.7,384.9L238.3,384.0L239.1,382.7L239.0,380.3L240.8,380.5L241.3,382.1Z"/>
<path d="M228.1,452.5L230.2,454.2L232.8,455.0L235.4,455.9L234.0,456.6L231.5,456.5L229.1,456.5L227.8,453.6L226.6,450.7Z"/>
<path d="M206.2,340.5L208.6,339.4L210.9,338.4L211.2,341.3L211.4,341.8L207.5,341.7L203.6,341.7L205.0,341.0ZM195.1,325.7L193.1,326.5L192.4,328.6L191.4,331.0L190.7,332.6L191.5,333.6L193.2,336.8L194.9,337.8L195.2,339.2L197.3,339.2L198.9,338.4L199.2,341.8L201.4,341.7L203.7,345.8L203.3,346.8L203.6,350.2L202.5,351.8L203.1,353.1L202.7,353.9L203.8,355.5L203.4,356.8L203.0,358.9L202.2,360.5L201.1,361.2L200.9,361.2L198.3,358.7L193.4,355.8L189.3,353.1L186.4,348.9L184.2,344.7L182.6,341.8L180.0,336.5L177.2,331.8L174.3,328.6L173.5,324.7L175.7,321.8L175.4,324.4L177.7,326.0L178.9,326.0L180.3,321.8L181.5,320.7L184.3,319.7L186.5,316.9L187.3,315.3L187.4,313.1L189.3,314.1L191.2,316.2L192.9,319.1L195.6,318.6L197.5,318.7L199.5,319.9L199.0,322.8L199.8,323.9L197.4,324.4Z"/>
<path d="M186.5,316.9L187.4,313.1L187.3,315.3ZM206.9,309.6L210.4,310.6L210.0,311.0L208.2,310.8ZM185.6,289.1L187.0,287.8L187.6,285.1L189.1,283.5L190.8,283.0L192.9,283.0L195.3,281.2L196.9,280.5L197.1,280.9L196.4,282.0L195.9,282.2L194.7,283.5L193.7,285.2L192.3,288.5L193.7,288.8L194.5,290.8L194.3,293.3L195.3,294.3L197.6,294.3L199.7,294.3L201.2,296.7L205.8,296.5L204.9,298.8L204.7,300.9L206.0,303.8L204.6,305.4L206.1,306.7L206.1,308.1L206.2,308.2L205.2,307.4L203.8,308.2L199.9,308.3L199.9,309.9L201.4,310.4L201.7,311.1L199.4,311.3L199.4,313.1L200.9,315.4L200.3,319.7L199.8,323.9L199.0,322.8L199.5,319.9L197.5,318.7L195.6,318.6L192.9,319.1L191.2,316.2L189.3,314.1L187.4,313.1L184.9,311.7L182.3,311.7L182.1,311.1L179.8,309.6L179.1,309.0L178.9,308.9L179.1,308.3L182.2,305.7L183.0,302.3L182.6,299.6L182.5,295.7L181.6,293.8L183.1,292.0L183.1,289.9L184.3,291.7L184.1,290.4Z"/>
<path d="M195.7,285.4L195.6,287.5L196.3,288.8L197.7,287.8L197.8,285.6L197.0,283.9L197.7,283.8L199.9,281.9L200.7,280.6L201.0,282.5L204.4,283.3L204.6,284.9L207.3,284.9L209.7,284.9L211.9,286.2L213.8,285.1L216.6,284.6L219.2,284.6L217.3,284.9L218.9,286.4L219.8,287.0L221.1,287.8L221.0,290.1L223.3,290.4L221.6,292.8L222.5,294.1L220.5,295.1L220.5,296.5L219.9,297.1L221.4,299.1L219.8,300.9L216.5,302.3L213.4,302.0L213.2,304.1L213.1,306.2L215.0,307.0L213.6,307.7L210.4,310.6L206.9,309.6L206.3,308.3L206.2,308.2L206.1,308.1L206.1,306.7L204.6,305.4L206.0,303.8L204.7,300.9L204.9,298.8L205.8,296.5L201.2,296.7L199.7,294.3L197.6,294.3L195.3,294.3L194.3,293.3L194.5,290.8L193.7,288.8L192.3,288.5L193.7,285.2L194.7,283.5L195.9,282.2L196.4,282.0L196.1,282.5L196.6,283.9ZM196.9,280.5L197.7,280.1L197.1,280.9Z"/>
<path d="M180.3,321.8L178.9,326.0L177.7,326.0L175.4,324.4L175.7,321.8L176.3,319.4L174.2,318.6L174.2,315.4L176.0,312.8L176.3,310.7L178.6,309.6L178.9,308.9L179.1,309.0L179.8,309.6L182.1,311.1L182.3,311.7L184.9,311.7L187.4,313.1L186.5,316.9L184.3,319.7L181.5,320.7Z"/>
<path d="M360.0,219.7L362.6,218.1L365.9,216.6L369.4,215.8L373.5,215.8L375.7,215.5L378.9,215.3L381.3,215.4L380.5,216.8L380.8,221.3L379.1,222.9L379.4,224.7L381.0,226.8L382.8,228.2L382.9,230.5L383.8,232.9L384.8,234.5L384.6,238.2L384.9,242.7L383.8,243.7L385.3,248.2L389.9,250.8L386.5,253.1L383.1,255.4L379.7,257.7L375.9,261.6L372.9,261.4L369.9,261.1L370.2,262.7L367.7,259.9L365.3,257.2L360.8,253.7L356.2,250.3L351.7,246.9L347.4,243.8L343.1,240.8L343.1,237.1L345.6,235.9L348.0,234.8L351.4,233.7L354.4,231.3L354.6,229.5L356.2,228.2L359.9,227.4L358.8,225.0L358.6,221.3L358.2,220.2Z"/>
<path d="M333.6,239.1L337.5,237.1L339.8,235.3L341.2,232.6L340.8,229.7L342.0,227.1L343.6,225.3L345.8,224.2L347.6,223.2L348.8,221.0L349.7,218.4L350.8,218.1L352.7,220.0L356.0,219.7L357.8,220.3L358.2,220.2L358.6,221.3L358.8,225.0L359.9,227.4L356.2,228.2L354.6,229.5L354.4,231.2L350.6,232.9L346.9,234.6L343.2,236.3L343.1,237.1L343.1,239.8L339.7,239.8L336.3,239.8L332.9,239.8Z"/>
<path d="M427.3,231.6L429.4,230.3L431.5,229.5L434.5,230.3L436.1,230.8L437.9,230.8L438.9,230.4L440.8,235.0L440.4,236.3L440.0,238.2L439.7,239.6L438.1,238.4L436.7,236.9L435.3,233.8L435.9,235.8L437.5,238.4L438.8,240.9L440.6,244.8L443.2,249.0L443.7,250.8L446.5,254.8L442.0,254.8L437.5,254.8L433.0,254.8L428.6,254.8L424.1,254.8L419.6,254.8L419.4,250.0L419.2,245.3L418.9,240.6L418.6,235.8L417.8,233.4L418.4,232.4L418.6,229.5L421.2,230.0L423.8,230.5ZM440.5,238.8L440.9,237.4L441.0,235.5L440.8,235.0L443.5,239.6L446.3,244.2L446.8,247.1L444.6,243.5L441.8,239.2Z"/>
<path d="M434.6,388.7L432.0,391.4L430.7,393.2L428.2,395.9L424.6,399.5L422.2,401.1L419.0,402.4L416.7,402.4L414.4,402.4L411.1,402.7L406.5,404.6L405.1,403.8L403.3,403.4L403.2,402.2L402.5,399.3L403.0,397.2L401.8,394.5L400.7,390.6L399.6,388.2L401.7,388.5L403.4,389.0L405.7,389.0L407.5,387.7L407.8,382.9L407.9,378.2L409.6,381.1L409.3,383.5L411.6,383.5L413.7,381.6L414.7,379.5L417.6,380.6L420.3,380.6L421.3,377.9L423.4,376.9L425.1,374.5L427.0,372.4L429.6,371.3L433.9,371.9L434.2,374.8L435.2,377.4L434.7,381.1L432.9,380.8L432.1,383.2L432.3,384.0L433.1,384.8L435.0,383.5L436.8,383.6L436.2,385.3ZM428.5,390.1L426.8,388.2L424.7,389.0L423.0,390.8L423.8,392.7L425.5,393.5L427.9,391.6Z"/>
<path d="M636.3,304.1L637.4,307.0L639.8,310.3L637.0,310.7L636.3,312.8L636.5,314.1L634.6,316.2L633.9,319.4L632.6,322.4L629.3,323.7L629.1,321.8L625.6,321.2L622.6,320.7L619.1,320.6L618.8,316.5L616.7,313.1L616.2,310.2L617.1,308.3L617.9,307.4L617.7,309.1L619.3,310.3L620.2,310.6L621.6,310.2L623.0,310.3L623.9,309.0L625.5,308.7L627.4,309.5L629.5,308.8L630.1,306.7L630.8,306.1L630.5,304.9L631.6,304.4L631.6,301.7L632.1,301.3L634.8,301.3L636.2,301.7L636.9,301.8L637.1,301.8L636.9,301.9Z"/>
<path d="M671.2,313.9L674.9,315.0L675.1,317.3L675.5,319.7L676.8,321.5L679.7,318.6L681.6,317.0L685.8,317.8L688.4,318.7L690.9,319.7L690.7,323.9L690.4,328.2L690.1,332.5L689.7,336.8L686.5,334.2L684.1,334.8L682.9,334.9L683.7,331.8L685.1,330.7L683.5,327.3L680.1,325.2L676.7,324.4L673.3,322.8L671.6,323.3L670.6,320.4L673.4,319.1L670.0,318.1L667.7,316.5L667.7,314.9Z"/>
<path d="M652.3,336.6L652.9,336.5L652.5,337.8L652.6,338.3L652.5,338.4L651.0,339.6L649.0,340.1Z"/>
<path d="M601.5,182.8L603.2,180.6L602.4,177.2L601.9,174.9L600.4,174.4L601.2,173.1L603.3,172.8L605.3,172.5L608.0,173.1L610.8,173.8L616.7,178.2L619.9,180.8L620.9,182.0L625.4,183.0L628.8,184.3L631.3,187.4L634.6,187.4L636.2,186.5L637.8,185.6L639.0,187.9L639.6,190.2L640.3,194.1L637.2,193.6L636.3,194.7L639.1,198.2L639.5,201.1L638.0,199.8L637.5,201.1L634.7,202.1L635.8,203.7L632.4,202.7L631.7,204.8L629.6,207.5L629.6,207.7L629.3,207.6L626.3,208.9L624.3,210.5L623.9,208.4L624.1,205.8L621.3,205.3L619.6,207.5L618.8,209.5L616.5,210.0L617.2,211.0L620.3,212.6L621.9,214.7L623.5,213.4L626.5,213.9L629.0,214.2L629.3,215.3L627.3,215.8L625.6,217.8L624.2,219.7L624.8,221.0L627.5,222.4L630.9,227.1L633.3,229.0L634.4,231.3L632.9,232.9L635.5,234.0L635.7,235.5L634.7,239.0L633.7,241.6L633.1,245.6L630.5,248.2L627.9,251.2L625.5,252.9L622.8,254.0L621.4,254.0L620.2,254.8L617.0,256.1L614.9,256.9L614.8,259.3L613.6,259.0L613.4,256.4L612.7,256.1L610.3,255.6L609.0,256.1L607.6,255.8L605.8,254.8L605.2,252.4L602.0,251.4L599.4,253.5L597.2,253.5L595.3,253.7L594.4,254.0L594.9,256.9L593.5,256.6L591.2,256.1L588.6,254.3L587.5,251.6L584.2,249.8L583.9,247.4L585.8,244.5L584.9,240.3L583.5,240.0L581.4,238.4L579.4,236.9L578.1,235.3L575.5,235.8L572.5,237.1L570.8,239.5L568.9,239.6L568.7,239.5L566.0,238.4L564.0,238.4L562.9,240.7L562.3,238.8L560.9,239.3L558.1,239.0L556.0,239.0L553.9,237.4L551.5,236.6L548.4,234.8L546.0,232.8L543.6,233.2L541.6,232.1L539.6,231.1L538.0,230.3L537.1,227.1L537.4,225.8L536.3,222.1L533.1,219.2L529.9,218.1L527.8,216.0L525.0,215.1L525.5,214.6L524.5,211.3L521.0,208.8L521.2,207.9L522.8,206.1L525.4,206.3L526.8,204.8L529.8,204.0L532.9,202.0L532.8,201.6L533.1,199.0L530.0,194.3L532.4,194.1L534.8,193.8L533.9,193.0L533.5,188.7L536.2,188.8L538.8,189.0L537.7,185.6L539.5,184.5L540.1,183.6L541.1,183.6L543.9,186.1L547.2,187.1L550.3,189.4L550.8,191.8L552.3,193.8L555.0,194.1L557.8,194.3L562.6,196.2L566.5,200.2L568.1,200.1L571.2,200.3L574.2,200.5L578.2,200.8L581.4,202.1L586.1,203.2L588.1,202.1L590.0,201.1L594.2,201.0L596.1,200.1L598.0,197.7L596.0,195.9L596.1,194.2L600.1,195.0L601.0,193.3L603.5,193.2L604.1,191.0L605.6,190.7L607.9,190.3L610.3,189.9L607.4,188.7L604.5,187.5L601.9,187.2L599.4,186.9L598.8,184.3L598.7,181.9Z"/>
<path d="M473.0,200.3L470.4,198.0L469.3,196.9L467.9,195.4L469.3,195.4L469.6,193.8L473.0,193.6L472.8,191.0L471.0,189.7L468.8,189.2L465.9,189.9L464.4,190.7L464.3,190.8L464.2,190.7L462.8,189.9L461.5,187.4L459.8,187.1L457.6,185.6L458.1,183.5L457.3,182.0L458.3,180.5L461.1,181.7L460.8,179.9L464.0,177.2L467.6,177.7L469.7,178.2L472.0,178.9L474.7,179.9L477.0,178.9L480.1,178.7L483.0,179.4L486.0,179.4L486.0,178.2L482.2,176.7L483.4,174.9L482.3,171.6L485.9,170.9L489.6,170.4L491.3,169.6L493.3,169.2L495.2,168.9L498.5,168.3L500.3,168.7L501.6,170.9L504.2,171.1L506.7,171.4L507.8,172.4L509.8,171.7L511.8,171.1L513.1,171.3L513.5,171.6L516.2,173.1L519.8,176.3L523.4,179.4L524.9,178.4L527.5,178.7L530.0,178.9L535.5,182.5L540.0,183.5L541.1,182.8L542.6,182.0L546.4,186.8L543.9,186.1L541.1,183.6L540.1,183.6L539.5,184.5L537.7,185.6L538.8,189.0L536.2,188.8L533.5,188.7L533.9,193.0L534.8,193.8L532.4,194.1L530.0,194.3L533.1,199.0L532.8,201.6L532.9,202.0L530.1,200.1L527.4,199.8L525.1,199.8L522.8,199.8L519.4,199.0L517.8,199.5L518.3,201.0L515.7,200.5L513.2,200.1L513.1,201.5L511.3,202.1L509.6,203.7L509.4,205.8L508.0,205.3L504.9,204.2L503.9,202.4L502.8,202.1L502.2,199.5L499.1,197.7L496.2,198.0L493.2,198.2L490.4,195.9L487.4,194.3L484.5,192.8L482.0,193.6L479.5,194.3L480.8,199.1L482.0,204.0L480.8,204.0L477.5,201.2L476.1,201.6L474.5,202.6Z"/>
<path d="M434.3,217.8L432.4,216.6L429.3,215.6L427.5,217.5L426.1,216.3L424.3,215.8L422.0,215.3L421.7,213.7L421.2,211.6L419.5,211.8L420.3,210.8L420.3,209.2L419.0,208.7L418.8,207.2L418.8,206.6L418.3,205.4L418.8,204.1L419.3,203.8L418.7,202.9L419.9,202.0L421.0,202.1L422.1,202.3L422.7,203.5L424.7,204.2L427.0,204.2L429.5,204.0L431.3,202.8L433.3,202.1L436.9,201.9L440.0,204.0L442.6,204.5L444.6,204.9L447.4,204.8L451.0,203.5L451.0,203.4L451.1,203.5L453.1,203.6L455.3,204.5L456.2,205.5L456.1,207.1L458.9,208.3L458.2,208.9L457.5,209.1L458.4,211.6L458.4,212.9L459.4,213.4L460.1,214.9L458.7,214.7L456.1,214.5L454.8,215.0L451.8,215.0L449.8,215.8L446.5,215.6L443.7,216.2L442.7,217.2L442.1,217.4L441.7,218.3L441.2,218.1L441.1,218.1L441.1,218.0L441.5,216.3L440.2,216.3L438.0,215.8L436.6,217.1Z"/>
<path d="M598.5,279.8L595.9,279.4L595.9,278.0L594.8,277.2L593.8,279.0L593.6,281.7L592.7,285.1L592.9,288.3L594.7,290.4L596.3,293.8L598.4,294.6L599.9,296.3L599.3,297.5L597.7,297.8L597.6,296.3L595.7,295.1L595.2,295.8L593.3,293.6L590.9,292.0L590.7,289.1L591.0,286.4L591.5,285.4L592.9,282.2L591.7,278.0L589.0,273.0L589.6,270.3L590.2,269.6L587.3,266.4L586.0,264.0L586.9,263.8L586.5,261.1L589.2,260.6L591.5,259.1L592.4,259.5L592.9,261.4L594.3,261.4L595.1,265.3L594.9,266.7L596.9,264.8L598.4,265.7L599.8,264.3L603.1,266.7L603.6,269.3L605.9,271.7L606.0,274.7L605.4,275.0L602.6,275.0L600.3,275.2L599.4,276.9L599.0,277.1L600.1,279.6L600.8,282.1Z"/>
<path d="M597.2,253.5L599.4,253.5L602.0,251.4L605.2,252.4L605.8,254.8L607.6,255.8L609.0,256.1L607.8,257.2L606.3,259.0L604.9,260.3L604.9,263.2L606.8,264.8L607.5,266.4L610.1,269.0L611.9,270.3L613.6,272.5L614.8,276.4L615.5,278.8L615.3,281.4L615.0,282.7L612.8,284.3L610.8,285.5L610.2,285.9L608.9,288.0L607.0,289.6L605.8,290.1L605.6,286.4L604.7,285.4L606.1,283.9L608.6,283.8L607.8,282.2L608.9,281.9L611.5,280.1L610.7,277.2L610.7,274.0L610.7,273.0L609.7,270.9L607.5,268.1L605.6,266.4L603.9,263.8L600.9,260.9L601.7,259.0L600.4,257.6L597.9,257.7L597.3,255.6L595.3,253.7Z"/>
<path d="M470.4,206.5L468.7,206.8L469.0,208.9L468.2,209.5L468.4,211.4L468.5,211.6L468.3,211.5L466.2,209.2L466.6,208.9L465.6,208.2L463.0,210.3L462.7,208.7L461.0,206.8L460.1,205.3L458.5,204.0L459.1,203.6L462.1,204.5L460.9,203.2L461.3,202.4L463.4,203.7L464.8,204.2L465.9,202.5L467.1,204.0L468.7,205.8Z"/>
<path d="M460.7,210.0L458.9,208.3L459.3,207.9L460.5,208.6L461.7,209.2L462.1,210.3Z"/>
<path d="M402.9,165.1L403.7,162.7L405.5,162.1L407.0,163.9L408.7,163.9L409.2,163.4L408.8,161.7L410.5,161.5L411.9,161.8L413.0,162.7L414.6,162.6L415.6,163.2L416.8,166.0L415.9,166.9L414.0,167.1L411.9,166.0L410.5,165.4L406.8,165.6L404.9,165.4L403.2,166.3Z"/>
<path d="M397.2,185.1L399.1,184.3L400.2,183.3L400.7,182.8L402.1,182.5L403.5,183.5L405.2,183.0L408.5,183.8L407.9,185.6L406.5,185.3L404.5,185.3L402.9,186.1L401.2,187.1L399.1,187.2L397.7,186.6Z"/>
<path d="M396.4,188.1L397.7,186.6L399.1,187.2L401.2,187.1L402.9,186.1L404.5,185.3L406.5,185.3L407.9,185.6L409.5,186.6L407.8,188.1L406.5,190.7L404.7,191.4L403.0,191.4L401.7,192.0L399.1,192.0L396.9,190.6L396.4,190.3L395.8,189.5Z"/>
<path d="M406.5,190.7L407.8,188.1L409.5,186.6L412.8,186.7L416.2,186.1L417.0,186.0L418.4,187.1L420.2,189.4L421.0,191.0L421.3,193.2L424.3,193.8L422.7,196.4L422.6,197.6L421.5,197.5L419.2,196.5L416.3,197.8L414.1,197.7L411.0,197.5L410.1,196.4L410.1,195.5L408.9,195.6L407.3,194.9L407.4,193.8L405.8,192.3L404.7,191.4Z"/>
<path d="M411.0,197.5L414.1,197.7L416.3,197.8L419.2,196.5L421.5,197.5L422.6,197.6L421.7,199.0L420.9,200.8L422.1,202.1L422.1,202.3L421.0,202.1L419.9,202.0L418.7,202.9L418.2,203.8L416.3,204.0L413.7,203.5L411.5,203.8L411.5,202.9L410.0,201.4L410.0,200.1L411.1,199.0L409.7,197.5L410.1,196.4Z"/>
<path d="M411.5,202.9L411.5,203.5L411.3,204.0L410.8,204.4L409.2,204.9L407.5,205.1L406.5,204.5L406.3,203.3L406.8,202.0L408.4,201.5L410.0,201.4Z"/>
<path d="M611.5,262.2L613.1,260.3L615.8,259.7L616.8,261.0L615.9,263.2L613.9,264.8L611.9,264.0Z"/>
<path d="M584.2,298.2L586.8,298.6L589.3,299.0L591.2,301.7L592.4,302.9L595.4,305.8L597.8,307.0L598.7,308.3L602.5,311.2L604.4,313.1L603.7,315.4L605.7,315.4L606.2,317.8L609.4,320.7L608.9,323.9L608.7,328.2L607.4,328.2L605.7,328.4L605.2,326.2L602.9,324.5L600.6,322.8L597.8,319.4L596.3,315.3L594.9,312.5L592.6,308.2L589.8,305.2L586.2,301.7L584.5,299.6Z"/>
<path d="M607.1,330.7L609.0,328.4L610.9,328.8L614.3,329.3L615.0,330.6L619.1,331.1L620.4,329.7L621.7,330.3L624.2,331.0L624.4,331.8L626.2,333.1L628.4,333.2L628.3,335.9L624.9,334.7L621.4,334.7L618.0,333.6L614.8,333.1L612.7,333.1L609.9,332.2L608.0,330.9Z"/>
<path d="M628.4,334.2L631.2,334.7L629.9,336.0L628.4,334.9Z"/>
<path d="M631.9,334.7L633.5,334.9L632.9,336.3L631.6,336.0Z"/>
<path d="M633.7,335.2L636.6,334.2L639.0,335.5L637.1,336.3L634.1,336.5Z"/>
<path d="M640.9,334.9L643.5,334.9L648.1,334.7L647.6,335.5L644.5,336.3L640.8,336.0Z"/>
<path d="M638.6,337.8L641.4,337.6L642.7,339.2L641.2,340.0L638.5,338.6Z"/>
<path d="M641.6,312.5L642.1,310.7L644.2,309.4L647.9,310.2L650.6,309.5L653.4,308.8L654.2,308.6L652.6,311.7L649.1,311.5L645.6,311.5L642.8,311.7L642.1,313.9L643.7,316.0L645.8,315.2L650.0,315.2L650.0,315.4L647.4,316.8L645.5,317.8L647.3,321.5L647.7,323.3L649.3,323.9L648.2,325.7L646.6,325.5L645.3,324.9L644.0,322.0L644.1,319.9L642.7,320.7L642.7,325.5L642.6,327.6L640.5,327.6L640.3,326.4L640.7,322.0L639.2,320.2L640.4,316.0L641.7,314.6Z"/>
<path d="M659.5,308.1L660.7,307.3L662.3,308.8L660.7,311.2L662.1,312.0L660.5,314.9L660.3,312.8L659.5,310.2Z"/>
<path d="M660.6,320.4L663.8,320.6L667.1,320.7L667.0,322.3L663.8,322.0L660.5,321.8Z"/>
<path d="M655.9,321.2L658.7,321.5L657.7,322.8L655.9,322.3Z"/>
</g>
<g class="c3">
<path d="M106.4,163.9L106.5,160.7L104.2,160.2L103.4,158.7L102.6,157.1L100.5,156.8L98.5,156.6L96.1,156.2L93.7,155.9L92.2,155.0L90.8,154.2L85.5,156.6L82.2,157.4L78.9,158.3L86.8,153.7L82.4,154.7L75.6,158.3L71.6,160.7L64.3,163.9L59.6,165.6L54.9,167.4L50.8,168.5L46.7,169.6L43.4,170.0L40.1,170.4L45.6,168.9L49.8,167.6L54.0,166.4L58.4,164.5L62.8,162.7L67.3,159.5L64.2,159.8L60.7,159.9L57.3,160.0L60.1,156.8L58.6,156.1L57.1,155.4L58.2,153.0L65.4,149.4L69.4,148.8L73.2,148.3L76.2,145.9L72.7,145.9L70.0,145.9L67.3,145.9L67.2,143.4L72.1,142.3L77.0,141.3L78.7,141.6L80.5,142.0L77.9,141.3L82.1,140.2L80.5,138.8L79.6,137.9L78.7,137.0L81.8,136.3L84.9,135.7L92.4,132.8L95.8,132.2L99.1,131.7L101.9,131.1L104.8,130.6L106.8,131.0L108.7,131.3L110.7,131.7L113.4,132.1L116.1,132.6L118.8,133.0L121.6,133.4L123.5,133.9L125.5,134.3L120.4,138.5L115.4,142.7L110.5,147.0L105.8,151.4L101.1,155.9L104.3,156.4L104.2,159.3L107.5,157.8L110.5,157.6L110.5,159.5L110.1,162.0L110.2,163.9L109.6,165.6L111.9,166.4L109.8,168.4L108.2,169.6L107.0,167.6Z"/>
<path d="M169.0,184.0L169.5,183.0L169.7,184.8L172.8,185.1L175.3,186.3L179.0,186.6L181.9,185.8L184.6,187.6L187.4,189.4L187.6,190.5L189.4,191.8L190.7,193.6L189.6,196.5L188.6,199.5L187.6,200.8L186.4,201.4L186.1,202.1L187.1,202.9L190.0,202.1L193.0,201.4L195.8,199.9L195.9,198.9L196.2,198.2L198.6,198.0L201.0,197.8L202.6,196.4L206.7,194.3L210.0,194.3L213.4,194.3L215.2,193.3L216.7,192.0L218.0,189.9L220.3,188.0L222.1,188.3L222.9,189.0L221.7,192.5L222.2,193.6L222.6,194.9L217.7,196.9L214.8,198.0L212.6,200.8L213.9,202.1L213.7,202.9L211.4,203.5L208.8,204.8L204.2,206.1L203.1,208.2L200.3,208.9L200.4,211.3L198.6,213.9L197.9,212.6L198.0,209.5L197.2,212.6L197.1,215.5L197.0,220.0L194.4,221.3L190.6,223.4L188.1,224.5L185.6,226.3L182.7,228.4L181.0,231.9L180.8,233.7L181.6,237.7L182.1,242.1L181.4,244.8L180.5,246.4L179.1,246.6L178.7,245.0L177.4,242.9L176.5,239.2L176.5,236.1L174.8,233.4L172.3,234.8L171.4,233.7L168.3,232.6L166.0,232.9L162.6,233.2L162.5,236.3L160.8,236.1L158.6,235.8L156.6,234.8L152.7,234.5L149.7,235.8L145.8,237.9L143.1,240.8L142.8,244.5L138.8,243.2L138.5,240.3L137.0,237.1L135.5,234.2L133.2,234.4L131.1,236.3L128.7,234.8L128.4,231.9L125.8,229.1L122.1,229.1L121.7,230.2L118.5,230.2L115.3,230.2L111.7,228.6L108.1,227.1L105.5,227.1L103.0,227.1L102.9,227.1L102.9,226.8L101.6,223.7L100.4,222.9L97.4,221.6L96.5,217.4L96.8,215.8L96.9,213.1L95.9,209.2L96.1,206.3L97.4,204.8L99.3,200.1L102.0,196.9L103.9,193.9L105.8,191.0L107.5,186.4L110.3,185.9L112.0,186.1L111.9,184.0L115.7,184.0L119.5,184.0L123.3,184.0L127.1,184.0L130.9,184.0L134.7,184.0L138.5,184.0L142.3,184.0L146.1,184.0L149.9,184.0L153.7,184.0L157.5,184.0L161.3,184.0L165.1,184.0Z"/>
<path d="M226.8,457.5L222.0,455.5L223.6,454.2L224.2,453.0L223.4,451.2L226.6,450.7L227.8,453.6L229.1,456.5L231.5,456.5L234.0,456.6L233.3,456.9L229.9,458.0ZM207.7,377.4L207.4,379.2L208.1,382.1L207.9,384.3L206.4,387.4L206.4,392.4L206.4,396.9L207.6,399.3L208.8,403.0L207.9,405.6L208.8,408.2L207.7,409.8L208.2,411.7L209.4,414.6L208.8,417.2L209.5,422.4L211.2,426.1L212.6,429.7L214.2,432.0L214.7,435.1L215.2,436.9L215.4,439.8L214.7,442.3L215.0,444.1L217.8,445.9L218.8,448.4L220.0,449.2L223.2,449.2L226.6,450.1L224.6,450.2L222.2,451.2L222.7,453.7L221.3,454.0L216.5,452.2L212.8,449.2L209.6,444.1L208.1,439.0L206.1,435.9L206.6,433.8L208.1,431.3L209.3,427.4L207.5,423.5L205.7,422.9L205.3,418.2L203.5,414.3L203.2,410.3L203.7,406.4L204.2,401.1L203.6,397.2L202.7,391.9L202.2,386.6L203.0,381.4L202.5,376.1L202.8,370.8L202.0,365.5L201.1,361.3L200.9,361.2L201.1,361.2L202.2,360.5L203.0,358.9L204.0,360.8L204.4,362.4L205.8,364.0L205.3,365.8L206.0,366.9L206.9,369.0L207.5,370.3L207.9,371.6L209.7,373.0L209.8,376.1Z"/>
<path d="M350.8,168.4L351.5,169.9L351.8,170.6L350.8,171.3L350.4,171.2L349.7,171.2L347.9,171.0L346.7,170.2L347.2,169.6L348.3,168.9L348.9,168.1Z"/>
<path d="M346.0,176.9L343.0,177.7L342.1,176.1L343.8,174.9L342.9,172.6L343.2,170.9L346.0,170.6L345.6,169.6L346.7,168.5L348.4,168.0L348.9,168.1L348.3,168.9L347.2,169.6L346.7,170.2L347.9,171.0L349.7,171.2L350.4,171.2L350.8,171.3L350.6,171.4L350.4,173.1L349.9,175.9Z"/>
<path d="M621.5,306.5L625.6,304.4L627.8,301.2L628.2,300.9L629.0,302.0L630.4,301.5L630.8,299.9L630.3,299.3L632.4,297.0L633.9,294.3L636.2,295.9L637.2,297.4L639.9,299.1L638.5,301.1L637.1,301.8L636.9,301.8L636.2,301.7L634.8,301.3L632.1,301.3L631.6,301.7L631.6,304.4L630.5,304.9L630.8,306.1L630.1,306.7L629.5,308.8L627.4,309.5L625.5,308.7L623.9,309.0L623.0,310.3L621.6,310.2L620.2,310.6L619.3,310.3L617.7,309.1L617.9,307.4L619.5,308.6Z"/>
<path d="M419.0,156.7L416.4,156.1L414.0,155.3L417.2,153.0L419.6,149.7L416.4,147.8L417.0,146.6L415.3,145.2L415.5,143.1L412.9,140.4L414.0,138.6L411.1,136.8L411.5,135.5L413.2,134.8L414.3,133.9L414.5,133.7L416.8,134.2L419.1,134.8L422.2,135.4L425.4,136.1L428.0,136.9L430.7,137.7L433.6,139.0L433.1,141.3L431.1,141.8L429.1,142.2L426.3,141.8L423.5,141.3L421.1,140.6L418.6,139.9L420.1,141.3L422.5,143.8L425.0,146.4L427.3,146.9L429.7,147.3L432.2,146.6L434.6,145.8L433.4,144.7L435.8,141.5L437.9,141.6L439.9,141.8L438.8,140.2L436.2,136.4L438.4,136.8L442.2,137.9L445.2,137.9L448.2,137.9L450.5,137.1L452.7,136.3L454.9,137.4L456.3,136.8L459.5,136.4L462.7,136.1L463.8,133.9L464.9,133.9L468.8,134.8L472.7,135.7L475.7,136.4L478.7,137.2L475.5,135.7L474.7,133.4L475.1,130.2L475.0,126.3L477.3,126.9L479.7,127.4L482.2,130.2L484.8,134.5L487.3,137.9L486.9,140.2L488.2,141.8L491.4,141.8L491.8,140.2L489.3,137.9L487.7,134.5L486.2,131.8L484.7,129.1L484.6,127.4L487.0,127.9L489.5,128.5L493.2,129.1L496.9,130.7L500.7,132.3L498.2,130.2L491.5,125.9L493.7,125.7L495.8,125.4L498.0,125.1L500.1,124.9L498.8,122.6L501.3,122.0L503.8,121.4L506.5,121.0L509.2,120.6L512.1,120.5L515.1,120.4L516.3,118.8L517.9,118.1L519.5,117.4L522.5,118.1L525.4,118.8L528.8,119.1L532.3,119.4L537.7,121.2L537.0,122.5L536.3,123.8L535.5,125.2L534.6,126.5L535.9,124.9L539.1,124.9L542.0,125.3L544.8,125.7L548.4,126.1L552.0,126.5L555.7,127.0L557.8,127.0L560.0,127.0L560.6,125.5L563.2,125.7L565.9,125.9L568.9,126.6L571.8,127.4L575.4,130.2L579.7,131.7L580.6,129.7L584.4,130.2L588.3,130.6L590.0,130.4L591.8,130.2L590.7,127.6L593.8,127.9L596.9,128.2L600.0,128.5L604.5,129.3L609.1,130.2L613.9,131.3L616.4,131.3L618.9,131.3L622.7,131.6L626.5,131.9L630.5,133.2L634.5,134.5L636.3,134.3L638.1,134.1L640.5,134.1L642.9,134.1L645.3,134.1L651.6,136.1L648.8,133.4L652.5,133.7L656.2,133.9L659.6,134.4L663.0,135.0L667.7,135.9L674.5,140.3L681.1,144.7L679.8,145.7L678.0,145.7L685.8,149.0L688.6,151.2L686.4,151.0L684.3,150.9L682.9,151.6L681.6,152.3L680.4,153.5L678.9,155.1L679.7,156.8L674.5,155.4L672.4,155.5L670.2,155.6L672.3,157.1L669.8,156.8L669.6,158.5L669.1,160.2L672.6,162.0L673.3,163.9L677.0,165.9L674.6,166.4L678.5,169.5L678.4,170.1L675.5,170.9L678.6,173.6L677.7,176.4L677.3,179.2L675.5,177.7L671.5,174.4L667.7,171.4L665.2,168.9L663.5,166.4L662.2,163.9L661.6,162.0L663.4,161.6L665.1,161.2L666.0,160.2L666.9,159.3L665.4,156.6L663.8,154.2L661.6,150.6L661.1,152.3L662.6,155.6L659.1,155.1L654.2,152.3L652.2,152.5L650.2,152.8L649.5,155.4L652.8,158.3L650.9,158.7L648.9,159.0L644.3,157.7L641.0,158.0L638.5,158.2L636.0,158.3L633.3,158.2L630.6,158.2L629.9,160.1L629.1,162.0L628.4,163.5L627.6,165.1L627.1,167.1L626.2,169.6L628.1,169.5L630.1,169.4L632.2,171.4L634.3,171.1L636.3,170.9L641.7,173.6L643.9,175.9L644.6,178.9L646.5,181.6L648.3,184.3L647.4,188.4L646.8,192.0L646.5,195.9L645.2,198.0L643.9,200.2L641.0,199.3L639.7,201.4L639.5,201.1L639.1,198.2L636.3,194.7L637.2,193.6L640.3,194.1L639.6,190.2L639.0,187.9L637.8,185.6L636.2,186.5L634.6,187.4L631.3,187.4L628.8,184.3L625.4,183.0L620.9,182.0L619.9,180.8L616.7,178.2L610.8,173.8L608.0,173.1L605.3,172.5L603.3,172.8L601.2,173.1L600.4,174.4L601.9,174.9L602.4,177.2L603.2,180.6L601.5,182.8L598.7,181.9L596.0,181.3L593.2,180.7L591.3,182.0L589.5,182.8L587.6,183.5L585.1,183.1L582.7,182.8L577.8,180.7L575.2,180.8L572.5,181.0L568.5,179.9L567.3,178.2L564.3,177.3L561.4,176.4L558.6,177.7L560.6,180.2L558.8,181.7L555.7,181.0L552.5,180.2L548.3,179.4L546.0,180.5L543.7,181.5L541.1,182.8L540.0,183.5L535.5,182.5L530.0,178.9L527.5,178.7L524.9,178.4L523.4,179.4L519.8,176.3L516.2,173.1L513.5,171.6L512.4,170.9L510.1,171.6L507.8,172.4L506.7,171.4L504.2,171.1L501.6,170.9L500.0,168.1L497.6,168.5L495.2,168.9L493.3,169.2L491.3,169.6L489.6,170.4L485.9,170.9L482.3,171.6L483.4,174.9L482.2,176.7L486.0,178.2L486.0,179.4L483.0,179.4L480.1,178.7L477.0,178.9L474.7,179.9L472.0,178.9L469.7,178.2L467.6,177.7L464.0,177.2L460.8,179.9L461.1,181.7L458.3,180.5L457.3,182.0L458.1,183.5L457.6,185.6L459.8,187.1L461.5,187.4L462.8,189.9L464.2,190.7L464.3,190.8L462.2,191.8L461.2,193.6L460.6,195.6L462.5,197.5L463.1,199.5L465.1,201.9L465.9,202.5L464.8,204.2L463.4,203.7L461.3,202.4L458.3,200.6L455.3,200.6L452.3,199.0L449.7,198.5L447.2,198.0L446.9,198.5L442.6,195.9L441.6,195.1L439.0,193.9L439.0,193.8L440.6,193.0L441.4,191.8L441.5,189.9L443.6,188.9L441.3,188.9L441.3,187.6L444.2,186.9L443.7,184.5L443.9,182.5L440.1,181.7L438.2,180.7L434.4,180.5L433.6,178.9L431.3,177.2L429.8,175.5L425.9,176.1L424.6,173.6L427.0,172.9L425.0,171.4L422.6,169.4L422.4,167.4L419.4,166.9L416.8,166.0L415.6,163.2L414.6,162.6L414.6,160.7L414.1,159.3L415.1,157.9L415.1,157.7L416.6,157.1ZM414.3,133.9L414.0,132.5L414.2,132.6Z"/>
<path d="M401.5,169.1L403.7,168.1L403.9,168.2L405.6,168.7L407.1,169.1L407.2,170.5L404.9,170.5L402.7,170.5L401.0,170.2Z"/>
<path d="M471.3,214.2L473.8,215.9L477.0,216.0L480.2,215.5L479.8,214.3L481.7,214.1L482.8,212.4L484.6,212.4L486.7,212.1L489.4,213.5L491.4,213.9L494.3,216.2L495.9,216.3L496.8,218.9L496.6,219.7L495.9,222.9L497.1,224.5L496.7,225.8L498.0,229.7L500.1,230.0L500.4,231.6L498.8,234.1L501.6,237.4L503.7,238.2L504.1,240.8L505.3,241.1L505.3,242.7L502.3,243.7L502.1,246.4L499.6,246.1L495.0,245.6L492.2,244.8L491.2,242.1L489.5,241.2L487.8,242.1L484.5,242.7L481.1,240.6L478.5,239.4L476.5,236.3L474.3,233.2L472.1,232.9L471.2,233.9L469.8,232.4L468.9,231.1L468.8,229.0L467.7,227.1L464.8,225.3L462.9,223.3L462.9,221.6L463.9,218.4L461.9,217.9L460.1,214.9L459.4,213.4L458.4,212.9L458.4,211.6L457.5,209.1L458.2,208.9L458.9,208.3L460.7,210.0L462.1,210.3L463.0,210.3L465.6,208.2L466.6,208.9L466.2,209.2L468.3,211.5L468.5,211.6Z"/>
<path d="M495.5,250.6L496.5,251.1L498.8,253.5L497.0,256.1L496.6,259.0L494.8,259.5L493.9,263.0L492.3,264.8L489.6,266.4L486.8,268.0L484.8,268.9L483.3,265.8L481.8,262.7L485.1,261.4L488.4,260.1L489.5,254.8L488.1,252.9L489.3,249.4L489.5,247.1L490.3,247.0L490.4,246.8L490.4,246.9L492.0,249.0ZM490.2,245.4L490.1,245.3L489.5,245.0L489.3,244.2L489.4,244.1L489.9,243.3Z"/>
<path d="M463.9,218.4L462.9,221.6L462.9,223.3L464.8,225.3L467.7,227.1L468.8,229.0L468.9,231.1L469.8,232.4L471.2,233.9L470.1,233.8L470.0,233.8L469.2,233.4L467.9,233.8L467.0,236.1L466.6,236.1L462.8,235.8L459.5,233.3L456.2,230.8L452.3,228.6L449.6,228.0L449.2,227.1L448.3,224.8L450.6,223.5L452.8,222.1L452.9,219.2L452.9,216.6L454.8,215.0L456.1,214.5L458.7,214.7L460.1,214.9L461.9,217.9Z"/>
<path d="M496.8,218.9L497.1,220.5L496.4,220.4L496.6,219.7ZM479.6,203.0L479.9,204.0L480.8,204.0L482.0,204.0L484.1,204.0L484.0,202.4L486.4,200.3L489.6,201.4L490.7,203.7L494.7,204.5L496.5,207.4L501.1,210.1L504.6,211.8L507.3,214.3L505.3,213.9L503.5,217.1L500.7,218.4L499.3,220.0L496.8,218.9L495.9,216.3L494.3,216.2L491.4,213.9L489.4,213.5L486.7,212.1L484.6,212.4L482.8,212.4L481.7,214.1L479.8,214.3L478.9,210.3L477.2,209.5L478.2,208.7L476.4,207.4L475.6,205.0L475.7,204.2L474.7,202.9L474.5,202.6L476.1,201.6L477.5,201.2Z"/>
<path d="M603.3,303.3L604.5,306.2L605.4,309.1L605.0,309.1L605.0,308.8L603.8,308.8L603.8,309.1L603.4,309.1L600.6,307.0L598.4,305.2L596.7,302.3L596.0,298.6L595.2,295.8L595.7,295.1L597.6,296.3L597.7,297.8L599.3,297.5L599.9,296.3L601.6,297.8L603.1,300.1Z"/>
<path d="M636.5,213.4L637.5,213.3L637.9,211.8L640.0,211.0L641.4,212.4L644.3,215.3L645.8,217.9L645.9,220.1L645.1,220.8L643.3,221.3L641.4,222.4L640.1,221.0L639.7,218.9L638.4,216.6L638.2,215.3L637.1,213.4Z"/>
<path d="M440.2,225.5L441.3,225.1L441.8,225.0L441.6,226.6L441.4,227.4L441.6,229.1L441.5,231.1L441.0,234.9L440.8,235.0L438.9,230.4L439.8,228.3L440.0,226.3Z"/>
<path d="M411.1,136.8L414.0,138.6L412.9,140.4L415.5,143.1L415.3,145.2L417.0,146.6L416.4,147.8L419.6,149.7L417.2,153.0L414.0,155.3L412.6,155.4L409.0,156.1L405.5,157.1L403.9,155.6L402.2,155.1L401.7,153.0L401.2,150.4L403.1,148.7L405.4,146.6L407.5,144.7L405.0,142.9L403.9,141.8L404.1,140.6L403.3,139.5L402.7,138.1L399.2,136.6L397.4,135.5L398.5,135.0L400.7,136.3L402.8,136.2L405.1,136.6L406.2,135.4L406.3,134.1L409.2,133.2L411.9,134.5L411.5,135.5Z"/>
<path d="M382.5,156.8L382.4,158.3L380.5,159.3L377.7,161.2L376.1,161.5L375.3,161.2L373.1,159.3L372.5,158.3L371.9,155.6L371.7,152.3L373.9,150.6L377.0,149.0L380.6,148.3L382.2,146.4L383.8,144.7L385.4,142.4L387.6,139.5L388.3,137.7L391.4,135.9L394.5,134.1L397.7,133.4L400.8,132.1L403.0,131.6L405.2,131.0L407.9,131.3L410.6,131.5L414.0,132.5L414.1,132.9L413.4,134.6L413.2,134.8L411.5,135.5L411.9,134.5L409.2,133.2L406.3,134.1L406.2,135.4L405.1,136.6L402.8,136.2L400.7,136.3L398.5,135.0L397.4,135.5L396.7,137.0L393.4,136.8L393.3,138.0L390.8,139.0L390.5,140.2L389.5,142.0L388.0,142.2L388.4,144.1L386.9,145.7L387.8,146.6L385.3,147.1L384.2,148.7L384.8,151.1L385.1,152.5L386.3,153.4L385.1,154.2L385.9,155.6L384.6,157.1L384.5,158.8L383.6,158.8Z"/>
<path d="M390.3,167.6L387.5,167.9L387.1,166.3L386.6,165.1L385.2,162.2L384.0,160.7L383.6,158.8L384.5,158.8L384.6,157.1L385.9,155.6L385.1,154.2L386.3,153.4L385.1,152.5L384.8,151.1L384.2,148.7L385.3,147.1L387.8,146.6L386.9,145.7L388.4,144.1L388.0,142.2L389.5,142.0L390.5,140.2L390.8,139.0L393.3,138.0L393.4,136.8L396.7,137.0L397.4,135.5L399.2,136.6L402.7,138.1L403.3,139.5L404.1,140.6L403.9,141.8L405.0,142.9L401.6,143.4L400.2,145.2L399.0,147.6L396.3,149.0L394.2,150.9L393.9,152.5L394.4,154.9L395.0,155.1L397.3,155.9L398.0,157.1L397.1,158.8L395.4,160.0L394.7,161.7L394.3,163.2L394.0,164.7L392.6,166.0L390.2,166.6Z"/>
<path d="M408.9,160.5L406.8,159.8L406.6,158.5L408.9,157.9L411.1,157.6L414.9,157.8L415.1,157.7L415.1,157.9L414.1,159.3L414.6,160.7L414.6,162.6L413.0,162.7L411.9,161.8L410.5,161.5L408.8,161.7Z"/>
<path d="M407.1,169.1L405.6,168.7L403.9,168.2L403.7,168.1L403.4,167.1L403.2,166.3L403.8,165.9L406.7,166.0L409.6,166.2L412.5,166.3L414.0,167.1L414.6,168.1L412.8,169.1L412.5,170.6L410.5,171.6L408.7,171.5L407.2,170.5Z"/>
<path d="M412.5,170.6L412.8,169.1L414.6,168.1L414.0,167.1L415.9,166.9L416.8,166.0L419.4,166.9L422.4,167.4L422.6,169.4L425.0,171.4L427.0,172.9L424.6,173.6L425.9,176.1L424.1,176.3L423.7,178.2L420.0,177.7L416.5,177.2L414.0,176.9L411.4,176.7L409.9,177.4L408.7,175.8L410.0,174.6L408.7,171.5L410.5,171.6ZM412.5,166.3L410.2,166.2L410.5,165.4L411.9,166.0Z"/>
<path d="M380.0,187.2L382.1,187.8L382.4,189.0L384.2,189.4L384.1,190.3L383.5,191.1L381.8,190.6L381.3,192.1L380.1,190.7L378.9,191.9L377.2,192.0L376.7,190.7L375.2,191.2L375.2,190.3L377.0,188.0L378.2,187.6Z"/>
<path d="M393.9,170.7L395.7,169.6L398.4,169.4L399.2,170.4L401.0,170.2L402.7,170.5L404.9,170.5L407.2,170.5L408.7,171.5L410.0,174.6L408.7,175.8L409.9,177.4L411.4,176.7L412.5,176.8L412.5,177.1L409.8,177.7L411.0,179.4L409.7,181.5L408.6,182.8L408.5,183.8L405.2,183.0L403.5,183.5L402.1,182.5L400.7,182.8L399.0,181.5L398.3,180.7L396.7,180.5L395.5,180.5L395.4,179.8L394.4,179.7L392.3,179.3L392.7,178.7L391.9,176.1L390.5,174.4L391.0,173.4L390.7,171.6Z"/>
<path d="M378.9,172.6L379.7,171.6L380.0,170.9L379.4,169.1L381.1,169.4L382.5,170.4L384.2,171.4L386.5,171.0L389.0,170.4L390.7,171.6L391.0,173.4L390.5,174.4L391.9,176.1L392.7,178.7L392.3,179.3L391.3,178.9L388.8,180.2L387.2,180.7L387.9,182.2L390.7,184.7L390.0,185.6L388.8,186.2L389.3,187.9L387.7,187.5L385.8,188.1L384.2,188.1L382.1,187.8L380.0,187.2L378.2,187.6L378.2,186.6L379.3,184.2L376.8,183.5L375.5,182.9L375.8,182.0L375.0,181.1L375.5,180.7L374.7,179.6L375.0,177.9L374.6,176.9L376.0,176.7L376.6,175.9L375.9,174.9L376.9,174.9L376.8,173.1Z"/>
<path d="M378.2,166.4L378.3,164.2L380.7,163.4L382.7,162.2L382.3,163.9L383.3,165.1L383.4,165.5L382.4,165.9L382.0,167.6L381.1,169.4L379.4,169.1L378.5,167.6Z"/>
<path d="M382.4,189.0L382.1,187.8L384.2,188.1L385.8,188.1L387.7,187.5L389.3,187.9L388.8,186.2L390.0,185.6L390.7,184.7L392.6,185.1L393.1,184.0L395.4,184.7L397.2,185.1L397.7,186.6L396.4,188.1L395.8,189.5L393.6,190.2L390.9,190.5L388.2,189.9L387.5,189.0L385.3,189.7L384.2,189.4Z"/>
<path d="M395.4,184.7L393.1,184.0L392.6,185.1L390.7,184.7L387.9,182.2L387.2,180.7L388.8,180.2L391.3,178.9L392.3,179.3L394.4,179.7L395.4,179.8L395.5,180.5L396.7,180.5L398.3,180.7L399.0,181.5L400.7,182.8L400.2,183.3L399.1,184.3L397.2,185.1Z"/>
<path d="M413.7,203.5L416.3,204.0L418.2,203.8L418.7,202.9L419.3,203.8L419.2,203.9L418.8,204.1L418.3,205.4L418.0,205.1L414.7,205.0L413.5,205.5L414.9,207.0L413.9,207.5L412.6,206.8L411.7,205.8L411.0,206.1L411.3,207.4L411.9,209.2L412.9,210.9L414.8,212.1L414.0,212.8L414.8,213.5L413.7,214.1L412.1,213.9L413.0,216.6L411.5,216.7L409.9,215.8L409.6,215.1L408.4,212.9L408.3,211.7L407.3,210.0L405.8,208.3L406.4,207.4L407.2,206.3L407.5,205.1L409.2,204.9L410.8,204.4L411.5,203.8Z"/>
<path d="M390.9,193.0L391.2,192.7L391.1,192.7L390.6,191.8L390.9,190.5L393.6,190.2L395.8,189.5L396.4,190.3L396.8,190.5L396.3,190.7L395.2,192.1L394.5,193.2L392.4,193.0L390.9,193.1Z"/>
<path d="M392.6,193.6L391.7,194.9L390.7,193.8L390.9,193.2L391.1,193.1L392.4,193.0L394.5,193.2L395.2,192.1L396.3,190.7L396.8,190.5L396.9,190.6L399.1,192.0L401.7,192.0L402.4,193.6L402.3,194.7L400.2,194.1L397.8,193.7L396.0,193.8L395.5,194.9L396.6,196.4L398.4,198.2L399.9,199.5L401.7,200.7L401.8,201.1L400.9,200.5L399.4,199.5L397.2,198.2L396.3,197.8L394.5,196.7L393.7,194.6Z"/>
<path d="M389.1,196.8L391.2,198.2L392.7,200.8L393.8,201.8L395.1,202.4L397.0,202.4L396.7,203.6L398.7,204.4L401.1,205.7L402.3,207.0L402.0,207.9L401.2,207.5L398.8,206.2L398.1,208.2L399.6,210.0L398.5,211.6L397.5,212.8L396.5,212.6L397.6,210.7L397.3,210.0L396.6,208.7L396.1,207.2L394.5,206.7L392.9,205.1L391.8,204.1L390.3,204.1L388.8,202.8L387.7,201.9L386.1,201.1L384.8,199.7L384.3,198.1L383.2,196.8L381.2,195.9L378.4,197.5L378.8,196.4L377.3,196.3L377.0,194.9L376.5,194.1L377.3,193.0L376.7,192.3L377.2,192.0L378.9,191.9L380.1,190.7L381.3,192.1L381.8,190.6L383.5,191.1L384.1,190.3L384.2,189.4L385.3,189.7L387.1,189.2L387.6,189.2L388.2,189.9L390.9,190.5L390.6,191.8L391.1,192.7L389.8,192.7L388.2,193.3L388.3,194.7Z"/>
<path d="M369.4,178.0L371.0,177.9L372.6,177.8L374.2,178.5L374.1,179.4L374.7,179.6L375.5,180.7L375.0,181.1L374.4,182.6L372.5,182.0L371.1,181.5L369.0,179.7L367.7,178.7Z"/>
<path d="M372.1,174.0L373.4,173.1L376.2,172.7L376.8,173.1L376.9,174.6L376.8,174.9L375.9,174.9L376.6,175.8L376.5,176.0L376.0,176.7L374.6,176.9L375.0,177.9L374.7,179.4L374.1,179.3L374.2,178.5L372.6,177.8L371.0,177.9L369.4,178.0L370.2,177.7L371.2,176.1Z"/>
<path d="M372.7,198.6L371.0,198.1L370.0,198.8L368.9,199.8L369.3,201.0L366.3,201.0L365.7,200.6L364.1,200.2L361.1,199.8L359.6,199.4L358.8,198.6L359.4,198.2L360.0,195.4L360.3,193.0L360.2,191.4L358.9,190.5L358.1,188.5L356.8,187.9L353.6,187.1L352.8,185.6L356.5,184.5L359.3,184.9L358.8,182.2L360.0,182.2L360.2,183.0L363.0,182.8L365.8,181.0L365.8,179.2L367.7,178.7L369.0,179.7L371.1,181.5L372.5,182.0L374.4,182.6L375.5,182.9L376.8,183.5L378.9,184.1L378.9,185.0L378.2,186.6L378.2,187.6L377.0,188.0L375.2,190.3L375.2,191.2L376.7,190.7L377.2,192.0L376.7,192.3L377.3,193.0L376.5,194.1L377.0,194.9L377.3,196.3L378.5,196.4L378.4,197.4L378.4,197.5L378.0,197.7L376.7,198.8L375.7,199.3L374.0,198.8Z"/>
<path d="M369.4,202.4L367.3,203.7L365.2,204.5L364.5,205.5L363.7,206.1L362.0,208.7L363.0,210.7L361.5,211.8L361.1,213.7L359.1,214.2L357.8,215.9L356.1,215.9L353.0,216.0L350.9,217.5L350.4,217.9L348.9,216.6L348.7,215.8L347.6,214.7L346.5,214.7L346.3,213.7L347.4,212.1L346.8,211.3L347.5,209.7L346.5,208.3L347.6,208.2L347.9,206.6L347.9,204.8L349.4,203.2L348.6,202.3L345.4,202.5L345.2,201.9L343.8,202.4L343.7,201.9L343.2,199.1L346.4,197.6L350.6,198.1L354.6,198.4L356.3,198.5L358.8,198.6L359.6,199.4L361.1,199.8L364.1,200.2L365.7,200.6L366.3,201.0L369.3,201.0L369.6,201.4Z"/>
<path d="M343.0,215.3L343.5,212.6L342.7,211.6L342.1,210.7L342.4,209.1L343.5,206.8L344.0,204.4L343.8,202.4L345.2,201.9L345.4,202.5L348.6,202.3L349.4,203.2L347.9,204.8L347.9,206.6L347.6,208.2L346.5,208.3L347.5,209.7L346.8,211.3L347.4,212.1L346.3,213.7L346.5,214.7L345.4,215.3Z"/>
<path d="M68.5,162.7L73.6,161.5L72.6,162.9L67.7,164.4Z"/>
<path d="M219.2,284.6L221.5,284.3L221.2,286.2L219.1,286.2Z"/>
<path d="M204.8,422.9L206.4,423.2L207.7,427.1L205.6,426.6Z"/>
<path d="M5.6,260.6L6.8,259.4L8.1,261.4L5.7,262.8Z"/>
<path d="M4.7,257.6L6.3,257.7L5.4,258.5Z"/>
<path d="M1.6,256.0L2.8,256.1L2.3,256.8Z"/>
<path d="M-1.5,254.5L-0.5,254.3L-0.9,255.1Z"/>
<path d="M44.1,144.7L46.9,144.1L50.2,142.0L49.3,143.4L51.9,143.6L51.4,145.2L52.8,145.8L54.2,146.4L56.4,145.7L58.5,143.8L61.9,143.4L65.8,142.2L66.1,140.4L63.3,139.9L60.9,139.3L59.8,138.2L58.8,137.2L57.5,135.9L50.7,140.3Z"/>
<path d="M66.9,130.2L68.5,130.4L70.2,130.6L69.0,131.3L66.8,131.4L64.6,131.5Z"/>
<path d="M54.0,148.3L56.1,148.5L58.2,148.7L55.5,149.4L53.1,149.2Z"/>
<path d="M52.0,156.1L55.0,155.6L54.1,156.8L51.8,157.1Z"/>
<path d="M351.1,181.3L354.1,180.6L355.6,179.9L358.6,179.9L360.6,179.6L363.2,179.6L365.4,178.5L365.4,177.9L364.0,177.7L365.8,176.1L366.1,174.9L363.6,173.9L363.2,172.6L362.4,171.4L361.4,170.1L359.9,168.9L358.7,166.9L356.2,166.4L357.6,165.6L358.6,163.7L359.2,162.4L355.9,162.2L354.8,162.7L356.6,160.7L356.8,159.9L353.2,160.0L352.6,161.5L351.6,162.9L351.7,164.7L352.0,166.4L351.7,168.1L353.1,167.6L352.9,169.6L355.8,169.1L355.8,170.4L356.7,171.6L356.7,172.9L353.5,173.1L353.7,174.4L354.5,175.4L352.2,176.7L354.0,177.4L356.6,177.9L355.6,178.4L353.6,178.9L352.5,180.5Z"/>
<path d="M319.5,143.6L323.4,141.4L324.9,143.6L327.1,142.2L330.6,142.1L332.5,141.7L334.4,141.3L337.2,141.5L338.7,143.6L338.7,144.7L335.5,146.5L332.1,147.6L328.4,148.5L325.9,147.6L323.9,147.6L321.9,147.6L323.6,146.4L321.8,145.7L320.1,145.1L323.5,143.8L321.5,143.7Z"/>
<path d="M378.2,114.0L380.8,113.7L383.3,113.5L385.8,113.2L388.6,112.9L390.7,112.7L392.8,112.5L394.9,112.3L397.2,112.5L399.4,112.7L401.6,112.9L399.2,114.4L396.3,114.4L393.4,114.5L392.9,115.3L394.7,116.4L392.6,117.2L390.6,118.0L388.2,119.8L386.4,119.0L384.6,118.2L382.8,116.6L379.6,115.5Z"/>
<path d="M394.0,116.8L395.9,116.6L397.7,116.4L398.8,117.6L395.9,118.2Z"/>
<path d="M430.0,112.0L432.7,111.8L435.4,111.6L438.4,111.8L441.4,112.0L438.7,112.3L436.0,112.5L433.0,112.3Z"/>
<path d="M457.3,132.1L455.2,132.0L453.0,131.9L448.9,130.2L446.7,129.1L448.0,127.0L449.4,123.8L451.6,122.2L454.0,121.2L456.4,120.2L459.0,119.6L461.6,119.0L464.3,118.9L467.0,118.8L465.8,119.8L464.6,120.8L462.5,121.4L460.4,122.1L458.2,122.8L456.9,123.8L455.6,124.9L453.6,127.0L454.0,129.1L457.4,130.8Z"/>
<path d="M502.5,114.9L505.7,115.1L508.9,115.3L512.2,115.6L515.5,115.8L518.8,116.1L513.5,114.4L510.4,113.7L507.3,113.0L504.2,112.3L501.2,111.7L498.1,111.0L496.9,112.0L495.7,113.0L499.1,114.0Z"/>
<path d="M576.5,122.2L575.9,120.4L578.6,120.6L581.2,120.8L583.9,121.0L588.3,121.8L587.6,122.8L585.3,123.1L583.0,123.4L579.8,122.8Z"/>
<path d="M591.8,122.0L594.8,122.2L597.9,122.4L596.9,123.2L593.1,122.8Z"/>
<path d="M585.5,125.1L588.7,125.4L592.0,125.7L591.6,126.5L589.3,126.3L587.0,126.1Z"/>
<path d="M656.0,130.2L658.3,130.2L660.6,131.5L658.2,131.3Z"/>
<path d="M641.5,170.4L647.0,175.1L648.9,177.7L653.3,181.0L657.3,184.3L653.2,183.5L656.3,187.9L658.8,189.7L660.2,191.6L657.4,189.9L657.5,192.0L654.4,187.9L652.0,184.0L648.8,180.2L644.5,175.9L642.0,173.1Z"/>
<path d="M660.9,203.6L661.8,202.7L661.3,200.8L662.8,200.6L667.0,202.3L667.7,199.7L669.9,198.6L667.2,196.0L665.5,196.7L661.8,195.4L660.1,194.3L658.0,193.0L659.6,196.2L660.9,199.0L658.5,198.6L659.8,200.8L659.2,201.6Z"/>
<path d="M663.9,203.7L665.6,206.1L668.1,208.4L668.8,211.8L669.6,215.3L669.6,217.1L671.0,218.7L670.5,220.3L669.7,220.6L668.8,218.9L668.0,220.0L668.0,221.6L666.6,220.3L666.5,221.6L663.8,221.4L663.2,220.5L664.1,222.5L662.5,224.6L660.1,222.4L660.1,221.4L657.2,221.3L655.5,222.4L654.1,222.4L651.2,223.3L651.7,221.8L653.2,219.3L657.2,218.9L660.3,218.9L659.8,217.1L659.9,214.2L660.8,213.9L661.3,215.8L663.6,214.2L663.9,212.8L664.3,210.3L662.5,207.5L662.2,205.8L661.9,204.1L663.7,205.0L663.7,204.8Z"/>
<path d="M654.4,224.9L655.7,222.9L656.9,223.2L659.2,222.6L659.8,223.7L659.3,225.1L657.5,224.5L657.3,226.6L655.8,225.8Z"/>
<path d="M651.3,223.4L653.5,224.2L654.9,226.3L654.7,228.7L653.8,231.1L652.5,230.3L651.8,228.4L651.6,226.8L650.1,226.6L649.2,224.7L650.5,224.2Z"/>
<path d="M637.9,246.1L639.1,246.9L638.8,252.2L638.1,255.1L636.4,253.2L635.6,250.8L636.4,247.9L636.8,246.9Z"/>
<path d="M692.8,341.0L694.5,345.8L693.9,349.7L696.1,350.5L697.4,353.7L697.9,357.4L697.8,362.4L698.9,363.4L702.2,366.1L703.2,368.7L704.3,371.7L705.4,374.8L707.2,376.6L709.1,379.5L708.3,382.7L707.9,385.5L707.4,388.3L704.2,393.2L702.8,395.9L698.7,399.5L696.1,402.2L693.6,405.0L691.0,407.7L688.9,410.9L688.3,411.7L683.5,412.7L678.2,415.9L676.3,414.0L676.6,413.0L672.4,415.2L670.2,414.2L668.0,413.2L667.0,412.7L667.1,410.1L668.0,406.9L666.9,406.5L665.0,406.8L666.8,404.8L667.3,400.9L668.1,398.5L665.4,401.7L664.4,404.8L662.8,405.9L661.5,404.6L660.1,403.8L659.6,399.8L659.2,397.4L656.9,396.6L654.5,395.9L652.0,396.1L649.4,396.4L645.8,397.2L642.2,398.0L637.0,399.8L635.0,402.2L631.4,402.2L627.1,402.4L624.3,403.8L621.4,405.2L617.5,404.6L616.0,403.4L616.6,401.1L618.4,400.6L619.7,397.2L619.3,393.2L619.8,388.7L619.4,385.3L618.8,381.4L620.2,382.1L619.9,377.4L621.5,372.1L622.8,370.3L623.9,370.3L627.5,368.2L631.1,367.1L634.8,365.5L639.6,364.5L643.1,360.3L643.6,357.6L645.7,356.0L646.7,358.4L649.2,355.8L651.3,352.4L655.8,349.1L658.3,351.8L661.5,352.1L663.6,347.1L665.2,345.6L668.0,345.0L669.7,342.2L672.7,344.4L676.1,344.4L679.3,345.2L676.8,348.4L675.1,352.1L678.1,354.7L682.2,357.4L683.3,358.9L686.2,358.8L687.7,355.6L689.1,352.4L689.7,348.4L691.0,344.4L691.7,341.8Z"/>
<path d="M672.1,420.1L675.3,421.1L679.5,420.5L677.6,423.5L674.9,426.6L671.5,427.8L670.1,427.4L670.2,425.0L670.8,422.1Z"/>
<path d="M742.7,403.5L743.6,405.1L744.4,406.7L743.4,410.0L745.5,409.0L745.1,412.1L746.6,413.0L750.1,412.2L747.1,414.8L746.0,416.1L743.3,416.9L741.4,419.5L735.8,422.4L735.2,421.6L738.1,419.0L738.3,418.1L736.8,416.4L739.8,414.8L742.1,411.7L742.8,408.8L742.1,405.6Z"/>
<path d="M732.4,419.5L732.2,421.5L734.8,420.8L733.0,422.9L730.7,424.5L726.3,427.5L726.5,428.1L721.5,429.7L717.0,433.6L713.0,435.4L710.6,435.4L709.7,434.4L708.5,433.3L714.1,429.7L716.7,428.4L721.3,426.6L725.3,424.6L727.6,422.8L730.3,420.6Z"/>
<path d="M708.2,436.2L709.6,436.2L708.3,437.2L707.5,436.9Z"/>
<path d="M389.6,212.8L391.6,212.1L394.0,212.0L396.5,212.0L395.4,213.9L395.6,216.2L393.5,215.1L390.6,213.8Z"/>
<path d="M380.0,204.9L382.2,204.1L383.6,206.1L383.3,209.5L382.2,209.5L380.7,210.0L380.6,206.6Z"/>
<path d="M380.8,201.1L382.5,199.5L382.9,201.9L382.2,203.8L381.1,202.7Z"/>
<path d="M414.1,219.2L416.3,219.5L420.3,220.0L417.5,220.8L414.1,219.9Z"/>
<path d="M433.5,220.5L435.0,219.6L438.4,218.7L437.0,220.3L437.3,220.6L435.2,221.7L433.8,221.2Z"/>
<path d="M384.1,167.1L386.9,166.1L387.0,167.4L386.3,168.9L384.3,168.4Z"/>
<path d="M381.6,167.6L383.5,167.6L383.4,168.7L382.0,168.6Z"/>
</g>
<g class="c4">
<path d="M110.3,185.9L107.5,186.4L107.8,185.6ZM106.7,178.9L107.6,175.1L107.7,171.4L108.2,169.6L109.8,168.4L111.9,166.4L109.6,165.6L110.2,163.9L110.1,162.0L110.5,159.5L110.5,157.6L107.5,157.8L104.2,159.3L104.3,156.4L101.1,155.9L105.8,151.4L110.5,147.0L115.4,142.7L120.4,138.5L125.5,134.3L128.6,134.5L130.6,135.7L134.8,135.0L138.7,134.5L141.9,134.0L145.0,133.4L148.9,133.0L150.5,134.5L154.2,133.4L156.1,133.7L157.9,133.9L159.9,134.4L161.8,135.0L164.2,135.5L166.6,136.1L165.4,138.1L167.9,138.2L170.4,138.3L172.9,138.3L175.5,138.3L175.4,140.4L178.9,138.3L181.7,138.1L184.5,137.9L186.9,138.1L189.2,138.3L191.4,138.3L193.5,138.3L196.6,136.8L198.7,136.8L200.8,136.8L201.1,133.4L205.7,130.2L208.3,129.1L211.2,129.5L210.4,132.3L207.7,134.5L210.2,135.7L211.9,136.8L211.9,139.0L217.5,136.1L220.8,133.9L222.9,134.0L224.9,134.1L224.1,136.8L220.6,140.2L216.9,141.8L213.7,141.3L212.0,142.4L209.1,144.1L205.3,147.1L201.7,147.1L197.3,149.4L192.9,151.8L189.4,154.2L186.3,156.6L184.8,159.5L186.4,161.5L185.7,163.9L188.9,163.4L192.3,164.2L193.9,166.4L195.8,167.2L197.7,168.1L200.2,168.4L202.7,168.6L201.2,171.4L199.8,174.1L201.5,175.9L201.4,178.2L202.7,178.4L205.2,177.7L206.2,175.1L206.1,172.6L207.7,169.4L212.5,167.6L215.7,165.1L216.0,162.7L215.9,159.5L218.4,156.6L218.9,154.2L220.7,151.1L221.9,150.6L224.0,150.9L226.2,151.1L229.7,151.3L231.4,153.2L233.6,154.2L233.9,155.4L232.1,159.0L234.3,160.2L237.5,159.5L240.2,157.8L243.0,155.9L243.3,157.1L244.7,160.2L245.2,162.7L245.5,165.1L246.8,167.6L249.6,169.4L250.8,171.4L252.8,173.1L251.7,175.6L248.6,177.7L244.2,178.9L241.6,180.7L237.9,181.0L235.7,180.8L233.5,180.7L231.0,180.8L228.6,181.0L226.1,182.8L223.2,184.0L220.4,186.1L219.0,187.1L215.6,189.7L218.5,188.4L223.8,185.1L227.4,183.8L230.5,183.5L231.8,184.5L231.3,185.3L226.8,186.6L228.4,186.6L229.7,187.1L228.8,188.7L228.6,190.5L229.8,191.8L231.7,192.3L234.8,192.5L237.9,189.2L238.5,191.8L235.5,193.6L234.4,193.8L229.7,195.4L228.5,195.9L224.6,198.2L223.6,197.5L228.4,193.6L227.9,192.5L225.0,193.8L222.6,194.9L222.2,193.6L221.7,192.5L222.9,189.0L222.1,188.3L220.3,188.0L218.0,189.9L216.7,192.0L215.2,193.3L213.4,194.3L210.0,194.3L206.7,194.3L202.6,196.4L201.0,197.8L198.6,198.0L196.2,198.2L195.9,198.9L195.8,199.9L193.0,201.4L190.0,202.1L187.1,202.9L186.1,202.1L186.4,201.4L187.6,200.8L188.6,199.5L189.6,196.5L190.7,193.6L189.4,191.8L187.6,190.5L187.4,189.4L184.6,187.6L181.9,185.8L179.0,186.6L175.3,186.3L172.8,185.1L169.7,184.8L169.5,183.0L169.0,184.0L165.1,184.0L161.3,184.0L157.5,184.0L153.7,184.0L149.9,184.0L146.1,184.0L142.3,184.0L138.5,184.0L134.7,184.0L130.9,184.0L127.1,184.0L123.3,184.0L119.5,184.0L115.7,184.0L111.9,184.0L109.9,181.5L108.3,180.2Z"/>
<path d="M472.4,239.5L474.2,241.1L475.7,242.9L476.2,245.3L477.3,246.8L477.3,246.9L477.8,247.5L479.0,248.2L479.8,249.3L482.3,252.3L485.2,252.6L488.1,252.9L489.5,254.8L488.4,260.1L485.1,261.4L481.8,262.7L478.4,263.2L475.0,263.8L473.2,264.8L470.7,268.1L469.2,267.3L466.5,266.9L464.6,266.9L462.3,266.7L462.0,268.8L461.1,269.7L460.3,268.5L457.4,264.8L454.8,260.6L451.8,256.1L450.5,252.8L449.1,249.5L446.9,247.4L446.8,247.1L446.3,244.2L443.7,239.9L441.1,235.5L443.5,235.8L444.7,234.1L446.4,233.7L447.4,232.4L444.9,229.7L448.8,228.4L449.6,228.0L452.3,228.6L456.2,230.8L459.5,233.3L462.8,235.8L466.6,236.1L467.0,236.1L469.0,236.3L469.7,237.7L471.4,237.7L471.5,237.7Z"/>
<path d="M486.0,248.2L487.8,246.1L489.3,244.2L489.5,245.0L490.1,245.3L490.2,245.4L490.4,246.8L490.3,247.0L489.5,247.1L489.3,249.4L488.1,252.9L485.2,252.6L482.3,252.3L479.8,249.3L482.9,249.3Z"/>
<path d="M479.0,248.1L478.5,247.9L477.8,247.5L477.6,245.6L478.4,243.8L479.1,244.5L479.5,246.9Z"/>
<path d="M469.9,233.8L470.1,235.4L471.5,237.5L471.4,237.7L469.7,237.7L469.0,236.3L467.0,236.1L467.9,233.8L469.2,233.4L470.0,233.8L470.1,233.8Z"/>
<path d="M375.0,181.1L375.8,182.0L375.5,182.9L374.4,182.6Z"/>
<path d="M255.7,140.8L252.8,143.1L248.7,144.3L246.7,143.0L244.8,141.8L244.0,144.7L245.8,146.4L247.7,148.0L245.2,150.1L242.4,149.0L239.7,147.8L240.7,149.9L241.7,152.0L238.8,151.3L236.5,150.5L234.2,149.7L232.9,148.0L231.6,146.4L229.4,146.3L227.3,146.1L225.4,145.8L223.6,145.4L226.0,143.8L229.3,143.6L232.5,143.4L235.7,140.2L238.2,137.4L236.4,136.7L234.6,135.9L232.8,134.8L231.1,133.7L230.2,132.6L227.7,133.1L225.2,133.7L222.8,133.4L220.5,133.2L218.3,132.8L216.2,132.3L215.5,130.2L218.3,126.1L222.3,125.3L223.9,125.5L225.6,125.7L224.0,128.5L227.7,125.9L230.6,125.6L233.5,125.3L235.6,126.5L237.3,127.0L239.0,127.4L240.8,129.3L242.7,130.1L244.7,130.8L246.5,131.8L248.4,132.8L249.4,135.2L248.7,137.9L250.9,138.6L253.1,139.3Z"/>
<path d="M193.0,134.1L188.6,136.1L186.8,135.8L185.0,135.4L182.1,135.9L179.1,136.3L176.1,136.5L173.1,136.6L170.2,136.8L168.4,136.0L166.6,135.2L166.7,133.0L169.2,132.9L171.7,132.9L174.2,132.8L176.1,131.7L173.6,131.8L171.0,131.8L168.4,131.9L167.9,130.2L170.7,128.5L175.9,126.8L179.9,126.1L182.1,126.6L184.3,127.2L186.8,126.8L189.3,126.3L191.6,126.0L193.9,125.7L192.5,127.8L195.2,127.6L197.8,127.4L197.5,130.2L194.6,132.3Z"/>
<path d="M159.7,130.8L159.0,129.7L158.2,128.7L164.1,125.3L167.0,124.5L170.0,123.8L172.1,124.0L174.2,124.2L176.3,124.4L177.5,126.1L172.9,127.6L168.3,129.1L164.4,130.4L162.1,130.6Z"/>
<path d="M196.4,122.8L193.7,123.1L191.0,123.4L188.4,123.5L185.9,123.7L183.4,123.8L181.6,123.0L179.9,122.2L184.5,120.0L187.4,120.0L190.4,120.1L193.4,120.2L197.8,119.2L198.5,120.1L199.4,121.0Z"/>
<path d="M181.8,120.8L178.6,120.9L175.4,121.0L173.4,120.2L177.7,119.1L181.9,118.0L184.6,118.0L187.2,118.0L185.8,119.6Z"/>
<path d="M208.9,122.8L205.9,122.7L202.9,122.6L201.4,122.2L199.9,121.8L203.7,120.0L206.7,119.7L209.7,119.4L210.8,120.1L212.0,120.8Z"/>
<path d="M204.2,129.1L199.5,130.6L198.0,129.2L196.6,127.8L199.8,125.5L202.1,125.2L204.4,124.9L205.5,125.7L206.7,126.5Z"/>
<path d="M216.4,127.4L213.6,128.2L210.8,129.1L209.0,128.8L207.3,128.5L210.3,125.3L213.4,125.0L216.5,124.7L218.6,125.5Z"/>
<path d="M199.3,136.6L197.5,136.2L195.6,135.9L194.9,134.8L199.4,133.4L201.8,134.5Z"/>
<path d="M218.6,147.8L216.5,148.0L214.3,148.3L210.3,149.0L208.5,148.3L206.7,147.6L211.2,143.6L213.8,142.4L216.1,142.9L217.4,144.2L218.8,145.4Z"/>
<path d="M213.7,150.6L210.7,151.1L212.5,149.7L215.2,149.7Z"/>
<path d="M237.2,122.8L233.1,123.8L230.5,123.8L227.9,123.8L225.2,123.8L222.7,123.7L220.2,123.5L217.7,123.4L219.3,121.2L217.9,120.7L216.5,120.2L217.8,119.0L220.4,119.4L223.1,119.8L224.3,121.6L227.0,121.4L229.7,121.3L232.4,121.2L235.4,121.3L238.4,121.4Z"/>
<path d="M242.6,120.2L240.1,120.2L237.5,120.2L234.9,120.2L232.0,120.0L229.1,119.9L226.1,119.8L231.9,117.2L236.0,116.3L234.5,114.9L239.5,112.5L237.6,112.3L235.7,112.1L233.8,111.8L237.0,111.6L240.2,111.3L238.1,111.1L236.1,110.8L234.1,110.5L237.7,109.9L241.3,109.2L244.1,109.0L246.8,108.7L249.5,108.5L252.2,108.3L255.0,108.2L257.9,108.2L260.7,108.1L263.5,108.0L266.3,108.0L268.8,108.2L271.4,108.4L273.9,108.7L276.5,108.9L274.0,109.7L271.5,110.5L268.7,111.2L265.9,111.9L263.1,112.7L260.8,113.2L258.4,113.8L255.3,114.4L252.2,114.9L248.8,116.8L243.9,118.8Z"/>
<path d="M232.2,116.3L229.6,116.3L227.0,116.3L225.4,115.1L223.9,114.0L226.0,111.8L229.1,111.3L232.3,110.8L233.8,111.6L235.4,112.3L235.6,114.0Z"/>
<path d="M213.9,117.2L211.8,116.9L209.7,116.6L207.7,116.3L208.0,114.9L210.7,114.7L213.4,114.5L216.1,114.4L217.1,115.9Z"/>
<path d="M221.4,117.2L219.4,117.0L217.4,116.8L218.5,115.3L220.8,115.6L223.0,115.9Z"/>
<path d="M215.4,123.4L213.3,123.1L211.3,122.8L214.2,121.6L216.8,122.0Z"/>
<path d="M240.8,187.6L243.8,185.3L242.1,185.3L245.0,182.8L248.0,179.4L251.7,177.4L249.8,180.2L251.0,182.8L253.9,183.3L254.4,185.3L254.3,187.9L253.0,190.2L251.1,189.7L251.5,188.1L248.1,189.4L247.6,187.6L244.5,187.6Z"/>
<path d="M104.5,179.4L106.7,179.8L108.8,180.2L109.7,181.7L110.8,184.8L110.5,185.6L107.7,184.8L106.0,182.8L104.2,181.0Z"/>
<path d="M101.8,171.4L104.3,171.4L102.0,175.9L100.7,173.9Z"/>
<path d="M229.8,189.9L232.2,190.7L234.3,190.7L232.9,191.8L230.1,191.0Z"/>
<path d="M232.0,182.0L235.8,182.8L237.1,183.8L233.6,183.3Z"/>
</g>
<g class="c5">
<path d="M603.8,309.1L603.8,308.8L605.0,308.8L605.0,309.1Z"/>
</g>
</g>
<g class="lg">
<rect x="133" y="538" width="47.5" height="10" fill="url(#hatch)" stroke="#bbb" stroke-width="0.7"/>
<line x1="156.5" y1="535.5" x2="156.5" y2="538" stroke="#999" stroke-width="0.6"/>
<text x="156.5" y="531.7">No data</text>
<rect x="200.3" y="538" width="86" height="10" fill="#fef0d9"/>
<rect x="286.3" y="538" width="86" height="10" fill="#fdd49e"/>
<rect x="372.3" y="538" width="86" height="10" fill="#fdbb84"/>
<rect x="458.3" y="538" width="86" height="10" fill="#fc8d59"/>
<rect x="544.3" y="538" width="86" height="10" fill="#e34a33"/>
<path d="M630.3,538H711.5L716.8,543L711.5,548H630.3Z" fill="#b30000"/>
<path d="M200.3,538H711.5L716.8,543L711.5,548H200.3Z" fill="none" stroke="#aaa" stroke-width="0.5"/>
<g stroke="#8a8a8a" stroke-width="0.6">
<line x1="200.3" y1="521.5" x2="200.3" y2="548"/>
<line x1="286.3" y1="535.5" x2="286.3" y2="548"/>
<line x1="372.3" y1="521.5" x2="372.3" y2="548"/>
<line x1="458.3" y1="535.5" x2="458.3" y2="548"/>
<line x1="544.3" y1="521.5" x2="544.3" y2="548"/>
<line x1="630.3" y1="535.5" x2="630.3" y2="548"/>
</g>
<text x="200.3" y="517.1">0 kWh</text>
<text x="286.3" y="531.7">1,000 kWh</text>
<text x="372.3" y="517.1">3,000 kWh</text>
<text x="458.3" y="531.7">10,000 kWh</text>
<text x="544.3" y="517.1">30,000 kWh</text>
<text x="630.3" y="531.7">100,000 kWh</text>
</g>
</svg>
<div class="footer"><b>Data source:</b> Energy Institute - Statistical Review of World Energy (2025); Population based on various sources (2024)</div>
<div class="cc">energy | CC BY</div>
</body></html>
